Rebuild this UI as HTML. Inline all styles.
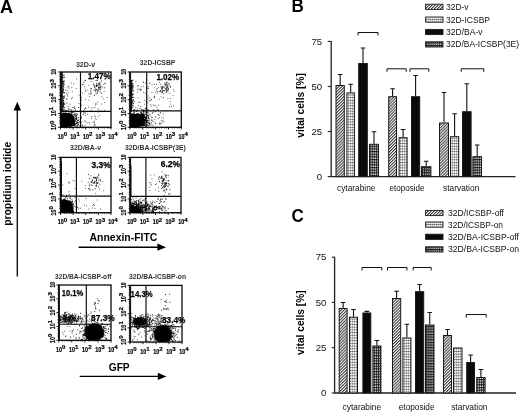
<!DOCTYPE html>
<html><head><meta charset="utf-8"><title>Figure</title>
<style>
html,body{margin:0;padding:0;background:#fff;}
svg{display:block;font-family:"Liberation Sans",sans-serif;}
</style></head><body>
<svg width="520" height="415" viewBox="0 0 520 415">
<defs>
<pattern id="p1" width="2.1" height="2.1" patternUnits="userSpaceOnUse" patternTransform="rotate(-45)"><rect width="2.1" height="2.1" fill="#fff"/><rect width="2.1" height="1.05" fill="#3a3a3a"/></pattern>
<pattern id="p2" width="2" height="2.7" patternUnits="userSpaceOnUse" x="0.2"><rect width="2" height="2.7" fill="#fff"/><rect width="2" height="0.9" fill="#b0b0b0"/><rect width="0.8" height="2.7" fill="#b8b8b8"/><rect width="0.9" height="1" fill="#3a3a3a"/></pattern>
<pattern id="p3" width="4" height="4" patternUnits="userSpaceOnUse"><rect width="4" height="4" fill="#0a0a0a"/></pattern>
<pattern id="p4" width="2.1" height="2.65" patternUnits="userSpaceOnUse"><rect width="2.1" height="2.65" fill="#e8e8e8"/><rect width="2.1" height="1.2" fill="#1c1c1c"/><rect width="1" height="2.65" fill="#1c1c1c"/></pattern>
</defs>
<rect width="520" height="415" fill="#fff"/>
<text x="0" y="12.7" font-size="18.4" font-weight="bold" textLength="13" lengthAdjust="spacingAndGlyphs">A</text>
<path d="M17.3 276.5V108" stroke="#000" stroke-width="1.3"/>
<path d="M17.3 101.8L13.6 110.6H21L17.3 101.8Z" fill="#000"/>
<text x="11.2" y="225.8" font-size="10.2" font-weight="bold" textLength="84" lengthAdjust="spacingAndGlyphs" transform="rotate(-90 11.2 225.8)">propidium iodide</text>
<clipPath id="c0"><rect x="60.5" y="72" width="50.5" height="55.3"/></clipPath>
<rect x="60.5" y="72" width="50.5" height="55.3" fill="#fff" stroke="#0a0a0a" stroke-width="1.3"/>
<path d="M60.8 72V127.3" stroke="#111" stroke-width="1.6"/>
<path d="M80.5 72V127.3M60.5 111.4H111" stroke="#0a0a0a" stroke-width="1.15"/>
<text x="57.7" y="138.9" font-size="7.2" font-weight="bold" textLength="6" lengthAdjust="spacingAndGlyphs" stroke="#000" stroke-width="0.2">10</text>
<text x="63.8" y="136.1" font-size="6.2" font-weight="bold" textLength="3.4" lengthAdjust="spacingAndGlyphs" stroke="#000" stroke-width="0.2">0</text>
<path d="M60.5 127.3v2.2" stroke="#000" stroke-width="0.9"/>
<text x="70.3" y="138.9" font-size="7.2" font-weight="bold" textLength="6" lengthAdjust="spacingAndGlyphs" stroke="#000" stroke-width="0.2">10</text>
<text x="76.4" y="136.1" font-size="6.2" font-weight="bold" textLength="3.4" lengthAdjust="spacingAndGlyphs" stroke="#000" stroke-width="0.2">1</text>
<path d="M73.1 127.3v2.2" stroke="#000" stroke-width="0.9"/>
<text x="83.0" y="138.9" font-size="7.2" font-weight="bold" textLength="6" lengthAdjust="spacingAndGlyphs" stroke="#000" stroke-width="0.2">10</text>
<text x="89.0" y="136.1" font-size="6.2" font-weight="bold" textLength="3.4" lengthAdjust="spacingAndGlyphs" stroke="#000" stroke-width="0.2">2</text>
<path d="M85.8 127.3v2.2" stroke="#000" stroke-width="0.9"/>
<text x="95.6" y="138.9" font-size="7.2" font-weight="bold" textLength="6" lengthAdjust="spacingAndGlyphs" stroke="#000" stroke-width="0.2">10</text>
<text x="101.7" y="136.1" font-size="6.2" font-weight="bold" textLength="3.4" lengthAdjust="spacingAndGlyphs" stroke="#000" stroke-width="0.2">3</text>
<path d="M98.4 127.3v2.2" stroke="#000" stroke-width="0.9"/>
<text x="108.2" y="138.9" font-size="7.2" font-weight="bold" textLength="6" lengthAdjust="spacingAndGlyphs" stroke="#000" stroke-width="0.2">10</text>
<text x="114.3" y="136.1" font-size="6.2" font-weight="bold" textLength="3.4" lengthAdjust="spacingAndGlyphs" stroke="#000" stroke-width="0.2">4</text>
<path d="M111.0 127.3v2.2" stroke="#000" stroke-width="0.9"/>
<path d="M64.3 127.3v1.3M66.5 127.3v1.3M69.3 127.3v1.3M71.2 127.3v1.3M76.9 127.3v1.3M79.1 127.3v1.3M81.9 127.3v1.3M83.8 127.3v1.3M89.6 127.3v1.3M91.8 127.3v1.3M94.6 127.3v1.3M96.4 127.3v1.3M102.2 127.3v1.3M104.4 127.3v1.3M107.2 127.3v1.3M109.0 127.3v1.3" stroke="#000" stroke-width="0.6"/>
<text x="56.3" y="130.1" font-size="7.2" font-weight="bold" textLength="6" lengthAdjust="spacingAndGlyphs" transform="rotate(-90 56.3 130.1)" stroke="#000" stroke-width="0.2">10</text>
<text x="53.5" y="124.0" font-size="6.2" font-weight="bold" textLength="3.4" lengthAdjust="spacingAndGlyphs" transform="rotate(-90 53.5 124.0)" stroke="#000" stroke-width="0.2">0</text>
<text x="56.3" y="116.3" font-size="7.2" font-weight="bold" textLength="6" lengthAdjust="spacingAndGlyphs" transform="rotate(-90 56.3 116.3)" stroke="#000" stroke-width="0.2">10</text>
<text x="53.5" y="110.2" font-size="6.2" font-weight="bold" textLength="3.4" lengthAdjust="spacingAndGlyphs" transform="rotate(-90 53.5 110.2)" stroke="#000" stroke-width="0.2">1</text>
<text x="56.3" y="102.5" font-size="7.2" font-weight="bold" textLength="6" lengthAdjust="spacingAndGlyphs" transform="rotate(-90 56.3 102.5)" stroke="#000" stroke-width="0.2">10</text>
<text x="53.5" y="96.4" font-size="6.2" font-weight="bold" textLength="3.4" lengthAdjust="spacingAndGlyphs" transform="rotate(-90 53.5 96.4)" stroke="#000" stroke-width="0.2">2</text>
<text x="56.3" y="88.6" font-size="7.2" font-weight="bold" textLength="6" lengthAdjust="spacingAndGlyphs" transform="rotate(-90 56.3 88.6)" stroke="#000" stroke-width="0.2">10</text>
<text x="53.5" y="82.5" font-size="6.2" font-weight="bold" textLength="3.4" lengthAdjust="spacingAndGlyphs" transform="rotate(-90 53.5 82.5)" stroke="#000" stroke-width="0.2">3</text>
<text x="56.3" y="74.6" font-size="7.2" font-weight="bold" textLength="5.6" lengthAdjust="spacingAndGlyphs" transform="rotate(-90 56.3 74.6)" stroke="#000" stroke-width="0.2">10</text>
<path d="M60.5 127.3h-2.4M60.5 113.5h-2.4M60.5 99.7h-2.4M60.5 85.8h-2.4M60.5 72.0h-2.4" stroke="#000" stroke-width="0.9"/>
<path d="M60.5 123.1h-1.4M60.5 120.7h-1.4M60.5 117.6h-1.4M60.5 115.6h-1.4M60.5 109.3h-1.4M60.5 106.9h-1.4M60.5 103.8h-1.4M60.5 101.8h-1.4M60.5 95.5h-1.4M60.5 93.1h-1.4M60.5 90.0h-1.4M60.5 88.0h-1.4M60.5 81.7h-1.4M60.5 79.2h-1.4M60.5 76.2h-1.4M60.5 74.1h-1.4" stroke="#000" stroke-width="0.6"/>
<text x="85.6" y="66.6" font-size="6.9" font-weight="bold" text-anchor="middle" textLength="19.4" lengthAdjust="spacingAndGlyphs" fill="#333">32D-v</text>
<path d="M59.3 127.9L59.7 112.1L60.5 112.4L61.9 112.7L63.8 112.8L65.7 112.5L68.1 113.5L69.6 112.9L72.2 113.9L72.7 114.8L73.8 115.9L74.2 117.7L74.0 119.0L74.8 121.4L74.8 122.9L75.5 124.5L75.5 126.0Z" fill="#050505" clip-path="url(#c0)"/>
<path d="M61.8 72V111.4" stroke="#111" stroke-width="2"/>
<path d="M71.8 121.5h0.9M66.2 115.5h0.9M65.8 126.4h0.9M64.3 121.5h0.9M70.7 112.9h0.9M67.9 116.2h0.9M71.1 120.0h0.9M72.0 125.0h0.9M76.0 122.1h0.9M69.1 113.8h0.9M71.7 117.2h0.9M66.1 114.0h0.9M63.5 117.6h0.9M75.2 110.1h0.9M76.0 123.2h0.9M70.4 116.6h0.9M62.7 125.2h0.9M74.2 121.1h0.9M69.8 122.5h0.9M76.8 123.4h0.9M71.2 123.0h0.9M73.5 122.9h0.9M72.9 111.2h0.9M67.5 125.4h0.9M71.4 119.5h0.9M70.2 123.5h0.9M69.1 126.0h0.9M65.1 118.2h0.9M73.9 120.4h0.9M63.9 125.0h0.9M76.1 118.1h0.9M61.3 119.6h0.9M67.7 118.8h0.9M75.8 115.2h0.9M75.1 114.0h0.9M64.4 123.5h0.9M74.4 124.6h0.9M70.3 121.0h0.9M69.3 123.2h0.9M67.6 121.7h0.9M71.5 120.3h0.9M72.5 123.1h0.9M79.0 121.9h0.9M66.3 118.4h0.9M68.4 124.9h0.9M66.7 122.2h0.9M78.1 107.5h0.9M62.7 121.5h0.9M70.6 121.5h0.9M66.3 123.6h0.9M70.0 117.7h0.9M81.1 122.1h0.9M65.6 119.8h0.9M67.3 120.0h0.9M73.7 114.5h0.9M68.2 125.1h0.9M66.7 123.4h0.9M74.2 106.9h0.9M74.2 113.1h0.9M72.1 112.8h0.9M69.4 126.3h0.9M67.7 121.3h0.9M72.6 121.0h0.9M74.0 118.8h0.9M82.8 114.6h0.9M73.3 119.0h0.9M69.2 123.8h0.9M69.7 123.5h0.9M71.7 115.5h0.9M63.2 112.9h0.9M75.1 124.0h0.9M76.2 115.6h0.9M68.5 114.6h0.9M73.6 119.4h0.9M68.0 117.3h0.9M70.6 122.3h0.9M76.3 115.2h0.9M76.1 119.4h0.9M64.6 125.4h0.9M69.1 120.9h0.9M75.9 119.0h0.9M70.1 117.2h0.9M68.5 124.5h0.9M68.2 125.5h0.9M65.0 124.7h0.9M62.1 120.2h0.9M67.5 120.2h0.9M65.4 121.5h0.9M77.8 120.5h0.9M71.3 125.3h0.9M67.5 114.0h0.9M65.6 125.7h0.9M73.7 124.3h0.9M68.5 124.3h0.9M69.4 114.4h0.9M73.3 117.5h0.9M63.8 116.4h0.9M62.4 122.1h0.9M65.2 110.6h0.9M72.3 118.9h0.9M70.0 118.0h0.9M72.6 124.0h0.9M72.0 121.9h0.9M75.4 123.6h0.9M70.8 109.9h0.9M67.0 118.0h0.9M78.6 111.5h0.9M63.7 123.7h0.9M78.3 119.7h0.9M71.4 124.8h0.9M63.8 119.9h0.9M70.0 124.4h0.9M68.3 119.3h0.9M63.2 118.5h0.9M73.1 120.8h0.9M64.1 116.1h0.9M82.4 126.0h0.9M71.8 107.3h0.9M71.7 122.7h0.9M77.3 122.4h0.9M68.1 122.9h0.9M70.2 116.8h0.9M61.2 117.0h0.9M70.0 121.2h0.9M66.4 115.4h0.9M79.5 125.5h0.9M62.3 113.6h0.9M77.4 125.2h0.9M78.0 124.4h0.9M64.0 121.6h0.9M68.2 122.9h0.9M64.7 119.7h0.9M70.9 122.2h0.9M71.8 121.3h0.9M66.8 124.2h0.9M68.8 116.2h0.9M65.2 120.3h0.9M67.9 121.1h0.9M68.5 121.2h0.9M67.8 114.0h0.9M70.7 125.6h0.9M70.8 119.4h0.9M70.8 115.5h0.9M63.7 124.0h0.9M62.9 107.2h0.9M66.5 113.5h0.9M64.5 122.9h0.9M71.1 121.2h0.9M76.2 123.8h0.9M68.4 123.3h0.9M77.1 125.2h0.9M73.8 114.9h0.9M67.7 123.9h0.9M67.0 125.6h0.9M71.6 124.8h0.9M74.9 119.2h0.9M66.7 124.7h0.9M73.6 120.3h0.9M62.4 121.2h0.9M70.4 125.9h0.9M72.6 120.4h0.9M72.9 123.0h0.9M69.6 120.6h0.9M67.2 123.7h0.9M63.0 117.2h0.9M68.5 113.0h0.9M66.2 110.3h0.9M64.9 123.1h0.9M71.4 120.0h0.9M67.3 113.2h0.9M78.0 122.9h0.9M74.2 115.9h0.9M67.5 111.2h0.9M72.6 125.0h0.9M71.8 111.5h0.9M65.2 113.3h0.9M68.7 121.5h0.9M71.8 123.8h0.9M76.3 126.1h0.9M61.7 117.8h0.9M63.0 114.9h0.9M68.1 120.3h0.9M71.0 112.4h0.9M62.1 120.2h0.9M67.5 118.7h0.9M68.2 116.5h0.9M72.1 122.1h0.9M68.0 116.9h0.9M67.6 106.7h0.9M63.4 120.5h0.9M69.3 113.4h0.9M67.2 118.7h0.9M70.9 123.4h0.9M68.3 116.0h0.9M67.7 120.0h0.9M72.3 121.8h0.9M64.7 113.5h0.9M66.6 116.6h0.9M62.7 119.7h0.9M65.9 120.8h0.9M71.2 118.2h0.9M80.6 118.7h0.9M74.2 120.9h0.9M74.3 108.4h0.9M64.6 121.5h0.9M70.2 126.7h0.9M72.5 125.0h0.9M71.2 119.5h0.9M71.1 114.9h0.9M74.6 115.2h0.9M67.3 120.4h0.9M74.5 120.4h0.9M64.3 121.6h0.9M71.5 123.9h0.9M77.2 120.4h0.9M69.9 118.2h0.9M75.9 116.8h0.9M72.0 117.9h0.9M64.9 123.9h0.9M75.4 120.2h0.9M65.0 124.4h0.9M68.2 121.9h0.9M76.4 126.0h0.9M68.5 124.2h0.9M65.1 120.1h0.9M75.6 114.2h0.9M74.6 118.0h0.9M68.2 118.7h0.9M67.9 114.9h0.9M68.6 113.1h0.9M68.1 121.8h0.9M70.9 119.1h0.9M63.8 121.1h0.9M72.5 119.7h0.9M66.1 116.8h0.9M63.6 118.5h0.9M70.0 122.9h0.9M64.8 120.4h0.9M83.0 111.0h0.9M65.8 121.1h0.9M69.3 122.3h0.9M67.3 122.1h0.9M68.8 124.2h0.9M68.5 115.1h0.9M63.1 123.4h0.9M65.1 123.5h0.9M72.4 121.8h0.9M71.1 119.8h0.9M61.2 120.1h0.9M70.9 117.7h0.9M68.0 124.0h0.9M63.9 123.5h0.9M78.2 117.5h0.9M69.3 119.5h0.9M76.5 121.9h0.9M73.2 116.8h0.9M68.4 120.3h0.9M73.2 111.6h0.9M72.4 119.6h0.9M70.8 122.1h0.9M76.3 117.4h0.9M63.2 113.5h0.9M62.2 122.0h0.9M77.3 122.4h0.9M65.8 116.9h0.9M71.2 123.0h0.9M63.2 114.5h0.9M70.0 121.5h0.9M61.7 119.3h0.9M65.7 122.6h0.9M67.9 119.9h0.9M66.7 125.6h0.9M75.7 118.5h0.9M72.9 116.5h0.9M68.9 124.0h0.9M76.4 118.4h0.9M68.1 121.3h0.9M65.0 122.2h0.9M62.6 110.4h0.9M68.7 121.6h0.9M65.6 124.7h0.9M67.1 117.3h0.9M71.0 112.5h0.9M65.0 120.2h0.9M72.9 119.5h0.9M70.1 117.0h0.9M65.2 120.4h0.9M69.4 125.4h0.9M62.1 109.8h0.9M71.7 124.3h0.9M69.6 121.6h0.9M73.3 122.1h0.9M77.2 114.1h0.9M66.5 103.1h0.9M72.7 118.4h0.9M68.5 119.0h0.9M65.9 116.1h0.9M65.2 123.5h0.9M68.7 120.6h0.9M67.6 124.9h0.9M71.1 119.6h0.9M72.0 119.5h0.9M70.9 115.5h0.9M74.1 122.0h0.9M70.2 124.8h0.9M69.5 119.6h0.9M68.7 118.9h0.9M70.3 120.7h0.9M72.0 118.4h0.9M68.3 109.6h0.9M66.3 123.7h0.9M75.5 118.5h0.9M66.8 124.0h0.9M77.2 120.5h0.9M74.9 116.7h0.9M69.6 119.9h0.9M69.1 125.9h0.9M80.9 117.0h0.9M65.5 122.8h0.9M63.0 122.8h0.9M71.5 118.9h0.9M71.3 112.6h0.9M72.5 112.6h0.9M64.9 117.5h0.9M66.4 124.6h0.9M68.9 118.3h0.9M68.5 122.1h0.9M74.9 121.6h0.9M80.0 110.4h0.9M68.3 122.4h0.9M100.3 89.8h0.9M96.1 83.9h0.9M97.4 91.0h0.9M93.3 84.0h0.9M96.9 80.9h0.9M96.1 86.0h0.9M98.5 85.1h0.9M94.0 86.2h0.9M96.8 85.2h0.9M97.0 90.1h0.9M101.0 93.3h0.9M94.3 86.1h0.9M88.6 94.0h0.9M94.5 87.4h0.9M98.8 82.9h0.9M98.6 87.4h0.9M90.8 88.5h0.9M101.1 81.1h0.9M99.7 88.2h0.9M98.6 89.0h0.9M101.4 86.7h0.9M100.0 86.1h0.9M99.5 84.7h0.9M96.6 93.4h0.9M98.5 87.0h0.9M93.1 84.8h0.9M97.7 90.7h0.9M98.4 89.3h0.9M96.9 92.1h0.9M95.7 85.6h0.9M100.0 87.7h0.9M96.1 85.5h0.9M96.1 89.6h0.9M98.2 83.4h0.9M98.4 88.1h0.9M93.6 90.1h0.9M96.0 86.4h0.9M99.7 92.0h0.9M94.7 89.0h0.9M94.0 95.4h0.9M95.3 91.6h0.9M94.8 90.3h0.9M104.5 78.9h0.9M95.5 89.2h0.9M96.7 85.2h0.9M104.3 87.8h0.9M62.6 96.1h0.9M63.0 104.6h0.9M63.6 107.3h0.9M62.6 106.5h0.9M63.8 109.3h0.9M62.6 81.7h0.9M62.7 75.3h0.9M63.7 104.4h0.9M63.4 104.9h0.9M63.4 84.7h0.9M62.6 77.7h0.9M63.6 81.7h0.9M62.9 89.8h0.9M62.5 83.6h0.9M62.9 100.8h0.9M63.0 86.0h0.9M63.8 92.8h0.9M63.7 97.1h0.9M62.5 89.4h0.9M63.1 102.9h0.9M63.0 100.4h0.9M63.3 82.1h0.9M63.7 77.4h0.9M63.6 80.4h0.9M62.5 81.6h0.9M63.6 110.6h0.9M62.5 92.4h0.9M63.2 103.8h0.9M62.8 92.5h0.9M63.0 105.1h0.9M62.9 109.3h0.9M62.9 82.0h0.9M63.5 92.6h0.9M62.7 97.8h0.9M62.6 103.5h0.9M63.5 103.4h0.9M63.4 87.3h0.9M63.1 88.8h0.9M63.7 77.2h0.9M63.7 74.9h0.9M62.8 83.8h0.9M63.8 92.7h0.9M63.0 107.1h0.9M62.8 91.2h0.9M63.2 102.2h0.9M63.6 98.2h0.9M63.0 86.2h0.9M62.7 105.5h0.9M63.4 101.8h0.9M62.7 90.4h0.9" stroke="#000" stroke-width="0.9" fill="none" opacity="1"/>
<path d="M81.1 105.3h0.9M80.3 107.3h0.9M82.7 84.2h0.9M62.7 96.6h0.9M90.8 108.1h0.9M66.0 98.9h0.9M78.7 95.1h0.9M68.6 88.1h0.9M85.5 108.6h0.9M66.9 94.7h0.9M98.2 109.9h0.9M70.9 83.1h0.9M104.4 110.2h0.9M83.7 80.7h0.9M103.7 91.4h0.9M102.7 98.9h0.9M99.1 84.1h0.9M97.4 86.1h0.9M80.2 106.1h0.9M99.3 84.9h0.9M71.8 91.8h0.9M85.3 91.3h0.9M67.5 86.9h0.9M94.6 107.7h0.9M63.8 97.0h0.9M96.1 80.2h0.9M99.7 82.8h0.9M89.0 96.6h0.9M90.2 88.8h0.9M80.9 97.6h0.9M81.2 100.1h0.9M82.1 93.0h0.9M63.1 98.8h0.9M84.0 86.5h0.9M96.4 104.0h0.9M82.6 84.7h0.9M83.3 82.4h0.9M67.8 92.8h0.9M66.1 93.1h0.9M85.0 80.3h0.9M90.6 81.6h0.9M95.0 103.9h0.9M85.0 80.7h0.9M84.7 91.1h0.9M104.8 83.4h0.9M100.6 110.9h0.9M94.9 105.1h0.9M70.7 110.4h0.9M84.1 109.6h0.9M103.2 84.3h0.9M97.5 108.8h0.9M64.9 90.2h0.9M96.0 84.1h0.9M102.3 87.8h0.9M98.7 83.6h0.9M84.6 108.4h0.9M71.4 87.4h0.9M84.8 89.2h0.9M63.7 84.8h0.9M69.3 109.0h0.9M92.6 107.7h0.9M69.6 104.1h0.9M67.2 96.0h0.9M90.6 90.5h0.9M101.3 96.8h0.9M88.1 107.2h0.9M66.7 110.8h0.9M90.3 91.6h0.9M97.9 87.5h0.9M106.6 97.5h0.9M78.2 103.5h0.9M81.9 84.7h0.9M95.5 80.5h0.9M98.9 87.1h0.9M90.8 110.5h0.9M88.4 100.2h0.9M76.1 79.1h0.9M63.5 83.8h0.9M89.7 92.8h0.9M85.1 107.7h0.9M67.9 86.3h0.9M91.4 79.7h0.9M62.1 90.4h0.9M66.8 90.4h0.9M72.1 97.7h0.9M88.5 85.5h0.9M90.1 94.2h0.9M68.1 109.0h0.9M73.0 83.8h0.9M66.3 99.4h0.9M101.2 104.0h0.9M80.1 87.5h0.9M62.5 99.6h0.9M87.3 90.2h0.9M91.1 93.2h0.9M104.2 102.5h0.9M73.2 107.9h0.9M64.0 96.0h0.9M80.3 86.6h0.9M64.6 103.9h0.9M62.6 96.6h0.9M104.3 83.6h0.9M71.0 98.5h0.9M84.8 99.5h0.9M98.6 84.6h0.9M75.9 88.6h0.9M64.2 107.5h0.9M97.2 101.9h0.9M62.3 106.0h0.9M95.5 93.9h0.9M94.8 118.6h0.9M84.5 113.5h0.9M84.6 112.6h0.9M86.7 122.9h0.9M93.9 124.3h0.9M94.2 115.9h0.9M91.1 118.3h0.9M95.8 119.6h0.9M85.3 121.3h0.9M99.3 115.1h0.9M97.6 112.2h0.9M85.2 115.4h0.9M94.9 125.7h0.9M94.9 116.7h0.9M97.6 116.8h0.9M84.8 125.2h0.9M92.6 122.0h0.9M93.3 126.2h0.9M89.4 124.2h0.9M94.0 124.4h0.9M88.7 122.5h0.9M91.4 116.5h0.9M84.2 121.0h0.9M81.6 125.2h0.9M82.9 112.4h0.9M82.1 125.5h0.9M86.9 114.1h0.9M80.6 112.6h0.9M93.9 121.2h0.9M93.9 122.7h0.9" stroke="#222" stroke-width="0.9" fill="none" opacity="0.85"/>
<text x="87.8" y="79.4" font-size="8.8" font-weight="bold" textLength="22.8" lengthAdjust="spacingAndGlyphs" stroke="#000" stroke-width="0.25">1.47%</text>
<clipPath id="c1"><rect x="130" y="72" width="51.30000000000001" height="55.3"/></clipPath>
<rect x="130" y="72" width="51.30000000000001" height="55.3" fill="#fff" stroke="#0a0a0a" stroke-width="1.3"/>
<path d="M130.3 72V127.3" stroke="#111" stroke-width="1.6"/>
<path d="M146.7 72V127.3M130 110.9H181.3" stroke="#0a0a0a" stroke-width="1.15"/>
<text x="127.2" y="138.9" font-size="7.2" font-weight="bold" textLength="6" lengthAdjust="spacingAndGlyphs" stroke="#000" stroke-width="0.2">10</text>
<text x="133.3" y="136.1" font-size="6.2" font-weight="bold" textLength="3.4" lengthAdjust="spacingAndGlyphs" stroke="#000" stroke-width="0.2">0</text>
<path d="M130.0 127.3v2.2" stroke="#000" stroke-width="0.9"/>
<text x="140.0" y="138.9" font-size="7.2" font-weight="bold" textLength="6" lengthAdjust="spacingAndGlyphs" stroke="#000" stroke-width="0.2">10</text>
<text x="146.1" y="136.1" font-size="6.2" font-weight="bold" textLength="3.4" lengthAdjust="spacingAndGlyphs" stroke="#000" stroke-width="0.2">1</text>
<path d="M142.8 127.3v2.2" stroke="#000" stroke-width="0.9"/>
<text x="152.8" y="138.9" font-size="7.2" font-weight="bold" textLength="6" lengthAdjust="spacingAndGlyphs" stroke="#000" stroke-width="0.2">10</text>
<text x="158.9" y="136.1" font-size="6.2" font-weight="bold" textLength="3.4" lengthAdjust="spacingAndGlyphs" stroke="#000" stroke-width="0.2">2</text>
<path d="M155.7 127.3v2.2" stroke="#000" stroke-width="0.9"/>
<text x="165.7" y="138.9" font-size="7.2" font-weight="bold" textLength="6" lengthAdjust="spacingAndGlyphs" stroke="#000" stroke-width="0.2">10</text>
<text x="171.8" y="136.1" font-size="6.2" font-weight="bold" textLength="3.4" lengthAdjust="spacingAndGlyphs" stroke="#000" stroke-width="0.2">3</text>
<path d="M168.5 127.3v2.2" stroke="#000" stroke-width="0.9"/>
<text x="178.5" y="138.9" font-size="7.2" font-weight="bold" textLength="6" lengthAdjust="spacingAndGlyphs" stroke="#000" stroke-width="0.2">10</text>
<text x="184.6" y="136.1" font-size="6.2" font-weight="bold" textLength="3.4" lengthAdjust="spacingAndGlyphs" stroke="#000" stroke-width="0.2">4</text>
<path d="M181.3 127.3v2.2" stroke="#000" stroke-width="0.9"/>
<path d="M133.9 127.3v1.3M136.1 127.3v1.3M139.0 127.3v1.3M140.8 127.3v1.3M146.7 127.3v1.3M148.9 127.3v1.3M151.8 127.3v1.3M153.7 127.3v1.3M159.5 127.3v1.3M161.8 127.3v1.3M164.6 127.3v1.3M166.5 127.3v1.3M172.3 127.3v1.3M174.6 127.3v1.3M177.4 127.3v1.3M179.3 127.3v1.3" stroke="#000" stroke-width="0.6"/>
<text x="125.8" y="130.1" font-size="7.2" font-weight="bold" textLength="6" lengthAdjust="spacingAndGlyphs" transform="rotate(-90 125.8 130.1)" stroke="#000" stroke-width="0.2">10</text>
<text x="123.0" y="124.0" font-size="6.2" font-weight="bold" textLength="3.4" lengthAdjust="spacingAndGlyphs" transform="rotate(-90 123.0 124.0)" stroke="#000" stroke-width="0.2">0</text>
<text x="125.8" y="116.3" font-size="7.2" font-weight="bold" textLength="6" lengthAdjust="spacingAndGlyphs" transform="rotate(-90 125.8 116.3)" stroke="#000" stroke-width="0.2">10</text>
<text x="123.0" y="110.2" font-size="6.2" font-weight="bold" textLength="3.4" lengthAdjust="spacingAndGlyphs" transform="rotate(-90 123.0 110.2)" stroke="#000" stroke-width="0.2">1</text>
<text x="125.8" y="102.5" font-size="7.2" font-weight="bold" textLength="6" lengthAdjust="spacingAndGlyphs" transform="rotate(-90 125.8 102.5)" stroke="#000" stroke-width="0.2">10</text>
<text x="123.0" y="96.4" font-size="6.2" font-weight="bold" textLength="3.4" lengthAdjust="spacingAndGlyphs" transform="rotate(-90 123.0 96.4)" stroke="#000" stroke-width="0.2">2</text>
<text x="125.8" y="88.6" font-size="7.2" font-weight="bold" textLength="6" lengthAdjust="spacingAndGlyphs" transform="rotate(-90 125.8 88.6)" stroke="#000" stroke-width="0.2">10</text>
<text x="123.0" y="82.5" font-size="6.2" font-weight="bold" textLength="3.4" lengthAdjust="spacingAndGlyphs" transform="rotate(-90 123.0 82.5)" stroke="#000" stroke-width="0.2">3</text>
<text x="125.8" y="74.6" font-size="7.2" font-weight="bold" textLength="5.6" lengthAdjust="spacingAndGlyphs" transform="rotate(-90 125.8 74.6)" stroke="#000" stroke-width="0.2">10</text>
<path d="M130 127.3h-2.4M130 113.5h-2.4M130 99.7h-2.4M130 85.8h-2.4M130 72.0h-2.4" stroke="#000" stroke-width="0.9"/>
<path d="M130 123.1h-1.4M130 120.7h-1.4M130 117.6h-1.4M130 115.6h-1.4M130 109.3h-1.4M130 106.9h-1.4M130 103.8h-1.4M130 101.8h-1.4M130 95.5h-1.4M130 93.1h-1.4M130 90.0h-1.4M130 88.0h-1.4M130 81.7h-1.4M130 79.2h-1.4M130 76.2h-1.4M130 74.1h-1.4" stroke="#000" stroke-width="0.6"/>
<text x="157.6" y="65.4" font-size="6.9" font-weight="bold" text-anchor="middle" textLength="35.5" lengthAdjust="spacingAndGlyphs" fill="#333">32D-ICSBP</text>
<path d="M129.3 128.4L128.6 113.6L130.5 113.3L132.0 113.4L134.9 114.1L136.6 113.4L139.0 113.7L141.7 113.5L143.8 113.6L144.8 115.7L144.0 117.4L144.2 118.1L145.5 120.0L145.5 120.9L144.8 123.0L144.6 124.3L144.9 125.9Z" fill="#050505" clip-path="url(#c1)"/>
<path d="M131.2 80V110.9" stroke="#111" stroke-width="2"/>
<path d="M131.3 125.5h0.9M136.8 114.8h0.9M134.9 116.2h0.9M143.6 125.6h0.9M131.7 124.9h0.9M143.8 117.4h0.9M131.0 116.6h0.9M135.6 122.0h0.9M137.1 110.2h0.9M140.3 112.6h0.9M143.9 114.3h0.9M135.3 116.0h0.9M143.6 123.3h0.9M140.7 112.6h0.9M136.2 117.5h0.9M133.7 122.8h0.9M135.0 116.8h0.9M133.4 110.0h0.9M139.9 115.4h0.9M145.6 121.8h0.9M145.1 118.1h0.9M144.7 124.2h0.9M130.7 118.3h0.9M131.3 119.8h0.9M142.1 115.0h0.9M131.9 125.6h0.9M137.9 121.6h0.9M138.2 125.3h0.9M144.6 120.7h0.9M131.7 124.0h0.9M136.5 123.4h0.9M145.1 118.0h0.9M136.1 122.5h0.9M145.4 126.6h0.9M141.8 113.7h0.9M132.2 121.5h0.9M134.3 126.0h0.9M143.2 111.9h0.9M134.6 121.1h0.9M136.3 119.5h0.9M141.5 116.3h0.9M141.5 117.1h0.9M136.1 123.0h0.9M135.9 121.7h0.9M147.6 120.4h0.9M138.2 124.0h0.9M137.0 125.7h0.9M132.1 123.4h0.9M136.2 116.3h0.9M148.6 116.0h0.9M148.5 123.6h0.9M146.8 115.4h0.9M138.4 119.7h0.9M152.3 121.2h0.9M136.7 117.2h0.9M141.4 122.0h0.9M137.2 122.7h0.9M146.9 115.3h0.9M131.7 114.8h0.9M133.4 111.1h0.9M141.4 111.0h0.9M135.0 119.0h0.9M139.3 123.0h0.9M137.1 120.4h0.9M136.0 120.9h0.9M132.7 120.6h0.9M149.3 120.7h0.9M132.2 121.6h0.9M133.7 112.0h0.9M135.0 124.0h0.9M141.1 119.8h0.9M134.0 114.9h0.9M146.3 121.5h0.9M133.9 109.7h0.9M132.8 119.9h0.9M140.1 119.5h0.9M137.5 113.4h0.9M134.9 124.5h0.9M140.4 125.5h0.9M132.9 123.3h0.9M141.1 116.6h0.9M141.6 115.8h0.9M134.7 120.2h0.9M133.6 113.0h0.9M136.7 124.1h0.9M136.8 126.6h0.9M132.7 113.7h0.9M147.4 122.3h0.9M144.1 116.2h0.9M143.3 121.6h0.9M142.5 120.4h0.9M145.5 117.1h0.9M133.8 112.9h0.9M145.3 116.6h0.9M133.4 115.6h0.9M136.6 113.9h0.9M137.4 117.2h0.9M136.0 115.5h0.9M139.2 118.0h0.9M139.6 121.5h0.9M140.8 109.4h0.9M136.1 116.3h0.9M143.2 112.4h0.9M135.1 118.8h0.9M137.2 125.3h0.9M136.6 125.1h0.9M131.1 111.2h0.9M145.6 122.5h0.9M141.6 120.9h0.9M141.6 114.2h0.9M144.1 117.6h0.9M144.3 120.7h0.9M145.1 119.6h0.9M136.9 121.5h0.9M136.7 117.6h0.9M139.6 121.0h0.9M147.2 120.5h0.9M148.3 125.6h0.9M139.7 121.0h0.9M138.2 116.6h0.9M138.6 117.1h0.9M147.9 123.0h0.9M136.6 110.7h0.9M138.7 118.2h0.9M133.1 114.6h0.9M138.8 119.6h0.9M146.8 121.0h0.9M139.9 118.4h0.9M137.1 120.5h0.9M134.2 125.1h0.9M131.5 123.1h0.9M133.9 125.7h0.9M135.1 116.5h0.9M131.9 126.1h0.9M147.9 117.3h0.9M134.9 118.6h0.9M152.5 125.3h0.9M136.1 111.3h0.9M135.4 126.2h0.9M149.1 119.0h0.9M135.3 117.8h0.9M133.1 125.6h0.9M140.6 116.5h0.9M143.2 120.3h0.9M132.7 123.4h0.9M143.5 110.7h0.9M148.9 122.8h0.9M143.1 111.0h0.9M135.1 118.6h0.9M144.8 113.0h0.9M134.2 110.2h0.9M137.7 122.0h0.9M142.6 118.8h0.9M132.6 115.6h0.9M135.4 121.0h0.9M140.6 114.9h0.9M147.3 125.0h0.9M139.5 116.7h0.9M143.9 116.3h0.9M131.9 121.3h0.9M140.3 123.3h0.9M134.5 125.2h0.9M133.7 123.8h0.9M140.0 121.5h0.9M144.2 120.2h0.9M145.0 124.7h0.9M139.7 117.5h0.9M134.9 117.7h0.9M137.9 120.2h0.9M155.1 123.5h0.9M143.2 116.0h0.9M135.2 118.7h0.9M140.0 115.1h0.9M147.7 117.5h0.9M144.8 108.6h0.9M139.0 121.7h0.9M140.0 123.3h0.9M140.5 121.1h0.9M140.7 119.3h0.9M134.6 117.4h0.9M136.4 115.9h0.9M136.0 121.2h0.9M155.3 117.0h0.9M139.3 121.7h0.9M138.8 125.0h0.9M148.6 114.1h0.9M139.9 119.0h0.9M140.9 112.6h0.9M141.8 121.3h0.9M139.4 108.5h0.9M137.0 116.5h0.9M131.4 115.7h0.9M142.8 123.0h0.9M138.9 122.9h0.9M135.7 120.7h0.9M139.2 123.1h0.9M138.6 119.6h0.9M138.3 117.1h0.9M151.1 122.9h0.9M146.6 112.5h0.9M142.8 124.5h0.9M143.2 114.4h0.9M134.3 121.6h0.9M141.7 115.2h0.9M136.9 118.3h0.9M139.3 122.0h0.9M137.5 114.1h0.9M138.4 125.4h0.9M141.4 123.6h0.9M141.6 116.5h0.9M142.1 125.4h0.9M149.7 124.0h0.9M137.2 117.3h0.9M134.6 120.9h0.9M138.8 123.7h0.9M151.3 120.2h0.9M142.7 122.7h0.9M140.5 119.3h0.9M138.3 116.2h0.9M140.0 120.2h0.9M140.7 116.0h0.9M139.2 120.5h0.9M142.3 115.0h0.9M141.3 125.2h0.9M142.2 118.5h0.9M136.3 119.1h0.9M138.1 117.1h0.9M141.0 121.3h0.9M134.1 116.6h0.9M138.5 123.7h0.9M132.6 115.2h0.9M141.7 114.2h0.9M139.6 122.1h0.9M138.4 115.2h0.9M138.7 118.6h0.9M140.8 116.1h0.9M144.9 111.9h0.9M138.0 120.3h0.9M144.2 117.3h0.9M141.9 117.5h0.9M136.8 122.5h0.9M134.0 125.2h0.9M145.5 120.5h0.9M132.9 122.3h0.9M145.2 125.7h0.9M143.4 111.1h0.9M132.4 126.0h0.9M149.2 124.1h0.9M145.0 118.6h0.9M132.4 119.8h0.9M137.9 120.1h0.9M142.8 119.6h0.9M140.0 122.4h0.9M141.4 120.7h0.9M137.9 117.2h0.9M146.3 121.1h0.9M133.2 117.5h0.9M138.3 118.1h0.9M144.9 114.5h0.9M141.7 121.0h0.9M132.6 120.5h0.9M138.5 122.8h0.9M136.6 121.8h0.9M143.2 125.5h0.9M138.9 117.3h0.9M144.8 109.8h0.9M134.7 123.7h0.9M142.5 115.1h0.9M139.8 115.8h0.9M139.3 124.8h0.9M143.0 109.9h0.9M143.2 111.4h0.9M145.2 122.3h0.9M151.2 117.2h0.9M139.0 125.5h0.9M135.5 116.8h0.9M137.0 119.9h0.9M133.2 122.7h0.9M141.9 120.7h0.9M148.2 118.7h0.9M146.1 117.6h0.9M143.1 110.6h0.9M140.1 119.4h0.9M136.3 117.2h0.9M137.1 116.7h0.9M136.0 117.7h0.9M133.3 119.6h0.9M143.2 119.0h0.9M144.3 124.9h0.9M145.2 118.7h0.9M138.3 125.9h0.9M136.0 119.7h0.9M141.0 122.2h0.9M137.5 125.2h0.9M138.0 123.9h0.9M144.8 123.6h0.9M143.0 114.5h0.9M131.9 117.2h0.9M132.4 121.8h0.9M134.4 116.6h0.9M164.1 90.7h0.9M165.7 92.3h0.9M161.8 91.3h0.9M168.0 88.7h0.9M166.5 86.7h0.9M161.5 87.2h0.9M162.9 97.7h0.9M163.4 93.8h0.9M165.6 89.5h0.9M167.4 86.0h0.9M167.9 89.7h0.9M160.1 90.4h0.9M166.8 89.9h0.9M170.1 87.2h0.9M166.6 90.9h0.9M162.1 92.3h0.9M160.4 84.3h0.9M166.7 85.0h0.9M164.6 83.2h0.9M165.2 84.9h0.9M166.1 83.6h0.9M166.4 87.6h0.9M165.2 88.3h0.9M165.4 84.3h0.9M156.8 88.6h0.9M162.0 87.0h0.9M166.4 82.1h0.9M162.6 86.5h0.9M161.6 89.5h0.9M164.6 85.9h0.9M161.8 91.1h0.9M162.9 90.4h0.9M166.4 82.4h0.9M161.5 88.5h0.9M166.1 91.0h0.9M167.6 91.8h0.9M163.8 87.8h0.9M167.5 87.1h0.9M168.4 83.4h0.9M167.1 87.9h0.9M158.7 91.6h0.9M166.0 88.6h0.9M161.6 87.0h0.9M169.8 85.9h0.9M132.5 87.7h0.9M132.1 91.1h0.9M132.4 86.2h0.9M132.3 84.2h0.9M132.7 100.7h0.9M132.2 87.5h0.9M132.5 93.8h0.9M132.9 90.9h0.9M132.3 107.3h0.9M132.1 97.4h0.9M132.3 105.2h0.9M132.5 103.5h0.9M132.2 100.6h0.9M132.6 94.3h0.9M132.8 105.7h0.9M132.1 88.9h0.9M132.4 86.4h0.9M132.1 88.7h0.9M132.2 101.7h0.9M132.4 83.5h0.9M132.3 94.5h0.9M132.4 85.2h0.9M132.1 80.3h0.9M133.0 103.2h0.9M132.1 102.2h0.9M133.0 97.4h0.9M132.1 95.1h0.9M132.4 85.9h0.9M132.5 80.3h0.9M132.9 99.9h0.9" stroke="#000" stroke-width="0.9" fill="none" opacity="1"/>
<path d="M155.1 110.9h0.9M154.2 96.5h0.9M161.1 92.7h0.9M147.7 98.8h0.9M147.4 109.4h0.9M160.7 96.8h0.9M137.1 92.2h0.9M149.4 97.8h0.9M156.5 107.4h0.9M172.5 95.6h0.9M151.0 99.7h0.9M173.8 91.3h0.9M154.7 105.5h0.9M140.0 90.5h0.9M173.1 105.8h0.9M154.0 84.3h0.9M169.7 101.7h0.9M166.6 110.7h0.9M169.4 93.6h0.9M139.4 89.7h0.9M154.0 96.1h0.9M140.7 86.5h0.9M158.8 99.1h0.9M147.5 110.8h0.9M159.1 82.3h0.9M149.9 104.6h0.9M145.6 101.7h0.9M133.2 90.1h0.9M167.5 98.6h0.9M160.4 86.9h0.9M153.4 97.6h0.9M143.9 100.4h0.9M154.8 110.9h0.9M156.6 93.3h0.9M138.0 85.7h0.9M164.1 84.2h0.9M137.1 86.1h0.9M154.4 105.7h0.9M158.1 105.2h0.9M135.5 81.4h0.9M164.6 90.7h0.9M162.3 91.6h0.9M139.9 89.0h0.9M137.1 108.1h0.9M156.9 91.5h0.9M151.4 92.6h0.9M135.2 107.7h0.9M156.9 109.8h0.9M151.0 99.6h0.9M143.2 82.3h0.9M171.2 106.6h0.9M145.9 108.0h0.9M166.5 90.1h0.9M157.7 109.8h0.9M153.3 109.5h0.9M143.0 92.7h0.9M162.5 87.6h0.9M145.7 107.3h0.9M152.9 104.8h0.9M143.0 86.2h0.9M147.7 86.6h0.9M172.8 89.7h0.9M156.0 84.4h0.9M154.9 92.6h0.9M149.5 83.0h0.9M138.1 105.8h0.9M147.4 88.3h0.9M140.8 89.5h0.9M142.7 82.0h0.9M160.2 91.2h0.9M139.4 102.2h0.9M136.8 89.1h0.9M167.2 84.8h0.9M151.2 106.1h0.9M166.0 85.8h0.9M147.5 102.7h0.9M148.5 109.8h0.9M141.5 109.5h0.9M153.7 87.8h0.9M151.6 84.9h0.9M162.0 88.8h0.9M169.9 98.6h0.9M148.1 88.4h0.9M157.9 87.4h0.9M168.8 84.7h0.9M154.0 97.3h0.9M144.1 104.2h0.9M148.8 100.7h0.9M156.3 90.3h0.9M149.0 83.6h0.9M140.3 106.5h0.9M146.2 100.9h0.9M137.5 97.9h0.9M147.8 96.0h0.9M145.2 83.0h0.9M145.8 87.8h0.9M138.2 102.5h0.9M144.6 93.1h0.9M170.3 104.2h0.9M169.2 106.8h0.9M138.4 89.3h0.9M134.2 101.4h0.9M160.2 91.5h0.9M149.9 100.8h0.9M161.7 88.5h0.9M161.4 117.1h0.9M157.7 114.6h0.9M149.0 125.2h0.9M159.5 122.3h0.9M147.7 112.6h0.9M149.8 114.9h0.9M152.2 117.5h0.9M147.7 116.5h0.9M157.9 114.6h0.9M161.3 120.3h0.9M159.2 115.7h0.9M154.4 121.9h0.9M152.9 112.0h0.9M161.2 123.3h0.9M151.9 112.6h0.9M161.5 120.8h0.9M147.8 115.5h0.9M148.9 123.5h0.9M150.6 125.3h0.9M159.7 113.2h0.9M158.8 117.7h0.9M159.7 124.0h0.9M151.8 113.3h0.9M163.1 118.1h0.9M162.8 122.0h0.9M159.6 124.0h0.9M157.7 118.6h0.9M147.9 122.1h0.9M154.3 119.4h0.9M162.8 113.9h0.9M160.0 112.6h0.9M158.9 123.7h0.9M151.4 119.9h0.9M163.5 121.2h0.9" stroke="#222" stroke-width="0.9" fill="none" opacity="0.85"/>
<text x="156.4" y="79.6" font-size="8.8" font-weight="bold" textLength="22.8" lengthAdjust="spacingAndGlyphs" stroke="#000" stroke-width="0.25">1.02%</text>
<clipPath id="c2"><rect x="60.5" y="157.4" width="50.5" height="55.29999999999998"/></clipPath>
<rect x="60.5" y="157.4" width="50.5" height="55.29999999999998" fill="#fff" stroke="#0a0a0a" stroke-width="1.3"/>
<path d="M60.8 157.4V212.7" stroke="#111" stroke-width="1.6"/>
<path d="M76.4 157.4V212.7M60.5 196.1H111" stroke="#0a0a0a" stroke-width="1.15"/>
<text x="57.7" y="224.3" font-size="7.2" font-weight="bold" textLength="6" lengthAdjust="spacingAndGlyphs" stroke="#000" stroke-width="0.2">10</text>
<text x="63.8" y="221.5" font-size="6.2" font-weight="bold" textLength="3.4" lengthAdjust="spacingAndGlyphs" stroke="#000" stroke-width="0.2">0</text>
<path d="M60.5 212.7v2.2" stroke="#000" stroke-width="0.9"/>
<text x="70.3" y="224.3" font-size="7.2" font-weight="bold" textLength="6" lengthAdjust="spacingAndGlyphs" stroke="#000" stroke-width="0.2">10</text>
<text x="76.4" y="221.5" font-size="6.2" font-weight="bold" textLength="3.4" lengthAdjust="spacingAndGlyphs" stroke="#000" stroke-width="0.2">1</text>
<path d="M73.1 212.7v2.2" stroke="#000" stroke-width="0.9"/>
<text x="83.0" y="224.3" font-size="7.2" font-weight="bold" textLength="6" lengthAdjust="spacingAndGlyphs" stroke="#000" stroke-width="0.2">10</text>
<text x="89.0" y="221.5" font-size="6.2" font-weight="bold" textLength="3.4" lengthAdjust="spacingAndGlyphs" stroke="#000" stroke-width="0.2">2</text>
<path d="M85.8 212.7v2.2" stroke="#000" stroke-width="0.9"/>
<text x="95.6" y="224.3" font-size="7.2" font-weight="bold" textLength="6" lengthAdjust="spacingAndGlyphs" stroke="#000" stroke-width="0.2">10</text>
<text x="101.7" y="221.5" font-size="6.2" font-weight="bold" textLength="3.4" lengthAdjust="spacingAndGlyphs" stroke="#000" stroke-width="0.2">3</text>
<path d="M98.4 212.7v2.2" stroke="#000" stroke-width="0.9"/>
<text x="108.2" y="224.3" font-size="7.2" font-weight="bold" textLength="6" lengthAdjust="spacingAndGlyphs" stroke="#000" stroke-width="0.2">10</text>
<text x="114.3" y="221.5" font-size="6.2" font-weight="bold" textLength="3.4" lengthAdjust="spacingAndGlyphs" stroke="#000" stroke-width="0.2">4</text>
<path d="M111.0 212.7v2.2" stroke="#000" stroke-width="0.9"/>
<path d="M64.3 212.7v1.3M66.5 212.7v1.3M69.3 212.7v1.3M71.2 212.7v1.3M76.9 212.7v1.3M79.1 212.7v1.3M81.9 212.7v1.3M83.8 212.7v1.3M89.6 212.7v1.3M91.8 212.7v1.3M94.6 212.7v1.3M96.4 212.7v1.3M102.2 212.7v1.3M104.4 212.7v1.3M107.2 212.7v1.3M109.0 212.7v1.3" stroke="#000" stroke-width="0.6"/>
<text x="56.3" y="215.5" font-size="7.2" font-weight="bold" textLength="6" lengthAdjust="spacingAndGlyphs" transform="rotate(-90 56.3 215.5)" stroke="#000" stroke-width="0.2">10</text>
<text x="53.5" y="209.4" font-size="6.2" font-weight="bold" textLength="3.4" lengthAdjust="spacingAndGlyphs" transform="rotate(-90 53.5 209.4)" stroke="#000" stroke-width="0.2">0</text>
<text x="56.3" y="201.7" font-size="7.2" font-weight="bold" textLength="6" lengthAdjust="spacingAndGlyphs" transform="rotate(-90 56.3 201.7)" stroke="#000" stroke-width="0.2">10</text>
<text x="53.5" y="195.6" font-size="6.2" font-weight="bold" textLength="3.4" lengthAdjust="spacingAndGlyphs" transform="rotate(-90 53.5 195.6)" stroke="#000" stroke-width="0.2">1</text>
<text x="56.3" y="187.9" font-size="7.2" font-weight="bold" textLength="6" lengthAdjust="spacingAndGlyphs" transform="rotate(-90 56.3 187.9)" stroke="#000" stroke-width="0.2">10</text>
<text x="53.5" y="181.8" font-size="6.2" font-weight="bold" textLength="3.4" lengthAdjust="spacingAndGlyphs" transform="rotate(-90 53.5 181.8)" stroke="#000" stroke-width="0.2">2</text>
<text x="56.3" y="174.0" font-size="7.2" font-weight="bold" textLength="6" lengthAdjust="spacingAndGlyphs" transform="rotate(-90 56.3 174.0)" stroke="#000" stroke-width="0.2">10</text>
<text x="53.5" y="167.9" font-size="6.2" font-weight="bold" textLength="3.4" lengthAdjust="spacingAndGlyphs" transform="rotate(-90 53.5 167.9)" stroke="#000" stroke-width="0.2">3</text>
<text x="56.3" y="160.0" font-size="7.2" font-weight="bold" textLength="5.6" lengthAdjust="spacingAndGlyphs" transform="rotate(-90 56.3 160.0)" stroke="#000" stroke-width="0.2">10</text>
<path d="M60.5 212.7h-2.4M60.5 198.9h-2.4M60.5 185.1h-2.4M60.5 171.2h-2.4M60.5 157.4h-2.4" stroke="#000" stroke-width="0.9"/>
<path d="M60.5 208.5h-1.4M60.5 206.1h-1.4M60.5 203.0h-1.4M60.5 201.0h-1.4M60.5 194.7h-1.4M60.5 192.3h-1.4M60.5 189.2h-1.4M60.5 187.2h-1.4M60.5 180.9h-1.4M60.5 178.5h-1.4M60.5 175.4h-1.4M60.5 173.4h-1.4M60.5 167.1h-1.4M60.5 164.6h-1.4M60.5 161.6h-1.4M60.5 159.5h-1.4" stroke="#000" stroke-width="0.6"/>
<text x="85.6" y="150.4" font-size="6.9" font-weight="bold" text-anchor="middle" textLength="31" lengthAdjust="spacingAndGlyphs" fill="#333">32D/BA-v</text>
<path d="M59.7 214.2L59.7 198.9L60.2 198.8L61.7 199.7L64.5 199.3L65.5 199.8L68.0 200.4L69.0 200.3L70.5 201.6L70.7 202.3L72.0 203.8L72.2 205.4L72.9 207.1L74.1 213.1Z" fill="#050505" clip-path="url(#c2)"/>
<path d="M61.3 161.4V196.1" stroke="#111" stroke-width="1.4"/>
<path d="M61.6 204.0h0.9M69.8 200.3h0.9M75.4 200.6h0.9M62.1 206.7h0.9M68.9 209.6h0.9M65.5 205.6h0.9M66.0 204.1h0.9M68.0 207.2h0.9M64.5 207.6h0.9M66.9 206.2h0.9M71.5 199.2h0.9M68.0 202.0h0.9M62.6 206.1h0.9M64.6 210.5h0.9M63.0 199.4h0.9M69.1 205.0h0.9M65.7 211.1h0.9M63.4 204.9h0.9M67.6 208.2h0.9M64.9 210.9h0.9M76.0 204.8h0.9M74.5 197.6h0.9M72.7 205.0h0.9M67.6 205.1h0.9M64.4 201.1h0.9M65.4 212.0h0.9M71.6 205.0h0.9M64.9 203.5h0.9M69.7 207.0h0.9M65.0 202.2h0.9M72.3 209.8h0.9M63.2 210.7h0.9M62.5 209.2h0.9M63.1 204.7h0.9M69.0 208.3h0.9M71.1 203.0h0.9M67.0 208.5h0.9M63.9 205.9h0.9M61.7 206.9h0.9M70.8 209.9h0.9M65.5 205.6h0.9M65.6 207.4h0.9M67.1 204.3h0.9M73.7 206.1h0.9M73.3 211.5h0.9M65.0 208.2h0.9M72.2 205.1h0.9M67.4 204.1h0.9M67.2 205.0h0.9M67.3 210.7h0.9M72.6 207.1h0.9M67.8 210.1h0.9M65.8 202.0h0.9M71.5 202.6h0.9M70.8 202.4h0.9M74.4 202.1h0.9M63.7 199.0h0.9M69.9 209.5h0.9M66.2 195.8h0.9M66.8 205.2h0.9M65.5 205.3h0.9M65.5 203.5h0.9M68.6 211.0h0.9M69.9 201.6h0.9M67.7 207.1h0.9M72.8 211.6h0.9M69.1 211.6h0.9M65.3 208.2h0.9M70.7 202.6h0.9M64.2 199.1h0.9M67.7 206.3h0.9M65.7 208.6h0.9M67.4 205.4h0.9M65.2 202.5h0.9M64.6 206.9h0.9M69.4 202.9h0.9M71.0 202.2h0.9M70.3 208.3h0.9M65.9 205.8h0.9M68.9 210.1h0.9M61.6 207.7h0.9M64.0 209.2h0.9M72.5 206.7h0.9M66.6 207.3h0.9M69.3 207.2h0.9M65.4 203.4h0.9M66.3 211.6h0.9M68.1 206.4h0.9M72.0 201.0h0.9M63.0 201.9h0.9M64.8 209.2h0.9M69.4 197.9h0.9M72.9 204.0h0.9M66.7 201.3h0.9M64.4 203.4h0.9M62.9 205.1h0.9M70.5 208.0h0.9M63.0 207.0h0.9M67.1 209.7h0.9M65.7 208.4h0.9M75.5 206.9h0.9M62.6 207.9h0.9M63.8 204.9h0.9M67.8 207.9h0.9M65.9 210.1h0.9M66.2 201.0h0.9M70.5 205.0h0.9M71.9 203.7h0.9M69.3 207.8h0.9M71.4 208.6h0.9M69.7 204.4h0.9M67.0 207.4h0.9M68.7 209.5h0.9M66.2 203.5h0.9M64.7 208.2h0.9M65.3 204.2h0.9M65.9 195.3h0.9M65.6 205.4h0.9M70.1 198.1h0.9M65.8 208.5h0.9M69.0 211.6h0.9M71.3 202.1h0.9M69.6 205.1h0.9M64.5 202.9h0.9M65.4 202.9h0.9M71.1 208.1h0.9M72.7 208.2h0.9M64.5 210.9h0.9M64.4 204.5h0.9M66.3 206.7h0.9M71.8 203.9h0.9M68.4 206.4h0.9M61.9 201.9h0.9M66.1 208.2h0.9M68.3 208.5h0.9M67.2 204.6h0.9M68.7 202.3h0.9M61.6 205.1h0.9M61.2 204.3h0.9M64.0 204.2h0.9M66.8 203.1h0.9M65.3 199.2h0.9M67.6 202.8h0.9M68.6 194.5h0.9M63.8 207.5h0.9M67.4 206.9h0.9M67.6 202.4h0.9M70.0 206.3h0.9M67.1 204.6h0.9M69.2 206.9h0.9M71.6 208.4h0.9M64.5 205.6h0.9M70.7 204.9h0.9M68.6 208.7h0.9M66.3 196.6h0.9M67.5 207.4h0.9M67.6 203.3h0.9M71.9 205.9h0.9M64.5 203.4h0.9M68.5 201.9h0.9M72.3 211.0h0.9M72.5 209.0h0.9M72.0 208.6h0.9M72.6 204.4h0.9M67.5 209.8h0.9M66.7 211.2h0.9M67.3 209.4h0.9M67.3 200.2h0.9M68.1 212.1h0.9M69.3 204.0h0.9M67.1 198.3h0.9M66.2 210.4h0.9M63.2 203.7h0.9M68.7 204.4h0.9M75.9 195.7h0.9M66.7 207.4h0.9M76.2 207.1h0.9M69.1 208.0h0.9M66.3 204.8h0.9M65.2 197.6h0.9M68.1 206.4h0.9M66.6 205.4h0.9M64.0 206.4h0.9M65.2 207.4h0.9M79.8 208.2h0.9M70.5 210.0h0.9M69.9 210.0h0.9M64.9 206.5h0.9M64.0 210.6h0.9M70.4 204.5h0.9M72.1 201.7h0.9M66.6 209.2h0.9M66.9 208.2h0.9M71.8 207.9h0.9M62.5 209.6h0.9M66.6 207.0h0.9M64.7 200.6h0.9M61.9 205.0h0.9M62.6 194.9h0.9M71.7 201.5h0.9M93.5 182.9h0.9M88.9 185.7h0.9M93.4 183.3h0.9M94.2 182.1h0.9M95.8 181.0h0.9M90.5 175.8h0.9M95.4 185.9h0.9M94.0 182.9h0.9M95.9 182.7h0.9M98.2 175.7h0.9M96.2 180.4h0.9M94.6 178.0h0.9M93.4 177.4h0.9M92.5 189.8h0.9M100.1 181.0h0.9M97.5 177.6h0.9M87.9 174.6h0.9M95.9 186.0h0.9M95.4 177.5h0.9M94.8 177.5h0.9M91.7 180.2h0.9M94.4 178.2h0.9M93.1 177.7h0.9M96.1 185.9h0.9M94.9 188.8h0.9M91.1 182.0h0.9M92.3 180.4h0.9M95.8 183.0h0.9M98.6 179.1h0.9M92.1 180.3h0.9M96.3 178.5h0.9M97.9 186.9h0.9M91.6 182.3h0.9M98.3 174.3h0.9M96.1 180.2h0.9M91.6 185.6h0.9M96.1 179.3h0.9M96.7 183.3h0.9M97.6 183.0h0.9M96.6 176.9h0.9M94.4 181.5h0.9M87.9 188.5h0.9M94.5 177.3h0.9M90.5 181.9h0.9" stroke="#000" stroke-width="0.9" fill="none" opacity="1"/>
<path d="M98.2 180.7h0.9M96.3 184.6h0.9M92.5 182.3h0.9M88.9 184.1h0.9M89.1 178.3h0.9M84.8 188.3h0.9M81.4 181.2h0.9M97.2 182.9h0.9M87.8 182.4h0.9M100.0 179.6h0.9M95.3 193.5h0.9M84.8 185.6h0.9M99.0 189.1h0.9M88.9 178.8h0.9M90.6 184.6h0.9M97.1 183.3h0.9M89.8 189.7h0.9M99.5 184.3h0.9M89.2 188.4h0.9M102.2 181.4h0.9M103.3 190.8h0.9M88.9 190.0h0.9M66.6 173.6h0.9M72.6 180.3h0.9M69.4 182.9h0.9M74.6 188.7h0.9M62.4 185.0h0.9M68.5 182.2h0.9M73.8 181.1h0.9M68.6 191.6h0.9M68.2 182.8h0.9M88.3 209.1h0.9M92.1 208.0h0.9M85.6 198.5h0.9M92.3 205.5h0.9M94.5 208.4h0.9M78.8 201.0h0.9M77.9 209.0h0.9M78.4 199.2h0.9M94.1 205.6h0.9M77.3 207.2h0.9M93.1 204.5h0.9M77.3 207.3h0.9M86.0 205.9h0.9M100.0 209.0h0.9M96.9 200.0h0.9M84.0 205.0h0.9" stroke="#222" stroke-width="0.9" fill="none" opacity="0.85"/>
<text x="91.6" y="167.7" font-size="8.8" font-weight="bold" textLength="19" lengthAdjust="spacingAndGlyphs" stroke="#000" stroke-width="0.25">3.3%</text>
<clipPath id="c3"><rect x="130" y="157.4" width="51" height="55.29999999999998"/></clipPath>
<rect x="130" y="157.4" width="51" height="55.29999999999998" fill="#fff" stroke="#0a0a0a" stroke-width="1.3"/>
<path d="M130.3 157.4V212.7" stroke="#111" stroke-width="1.6"/>
<path d="M145.9 157.4V212.7M130 196.4H181" stroke="#0a0a0a" stroke-width="1.15"/>
<text x="127.2" y="224.3" font-size="7.2" font-weight="bold" textLength="6" lengthAdjust="spacingAndGlyphs" stroke="#000" stroke-width="0.2">10</text>
<text x="133.3" y="221.5" font-size="6.2" font-weight="bold" textLength="3.4" lengthAdjust="spacingAndGlyphs" stroke="#000" stroke-width="0.2">0</text>
<path d="M130.0 212.7v2.2" stroke="#000" stroke-width="0.9"/>
<text x="139.9" y="224.3" font-size="7.2" font-weight="bold" textLength="6" lengthAdjust="spacingAndGlyphs" stroke="#000" stroke-width="0.2">10</text>
<text x="146.0" y="221.5" font-size="6.2" font-weight="bold" textLength="3.4" lengthAdjust="spacingAndGlyphs" stroke="#000" stroke-width="0.2">1</text>
<path d="M142.8 212.7v2.2" stroke="#000" stroke-width="0.9"/>
<text x="152.7" y="224.3" font-size="7.2" font-weight="bold" textLength="6" lengthAdjust="spacingAndGlyphs" stroke="#000" stroke-width="0.2">10</text>
<text x="158.8" y="221.5" font-size="6.2" font-weight="bold" textLength="3.4" lengthAdjust="spacingAndGlyphs" stroke="#000" stroke-width="0.2">2</text>
<path d="M155.5 212.7v2.2" stroke="#000" stroke-width="0.9"/>
<text x="165.4" y="224.3" font-size="7.2" font-weight="bold" textLength="6" lengthAdjust="spacingAndGlyphs" stroke="#000" stroke-width="0.2">10</text>
<text x="171.5" y="221.5" font-size="6.2" font-weight="bold" textLength="3.4" lengthAdjust="spacingAndGlyphs" stroke="#000" stroke-width="0.2">3</text>
<path d="M168.2 212.7v2.2" stroke="#000" stroke-width="0.9"/>
<text x="178.2" y="224.3" font-size="7.2" font-weight="bold" textLength="6" lengthAdjust="spacingAndGlyphs" stroke="#000" stroke-width="0.2">10</text>
<text x="184.3" y="221.5" font-size="6.2" font-weight="bold" textLength="3.4" lengthAdjust="spacingAndGlyphs" stroke="#000" stroke-width="0.2">4</text>
<path d="M181.0 212.7v2.2" stroke="#000" stroke-width="0.9"/>
<path d="M133.8 212.7v1.3M136.1 212.7v1.3M138.9 212.7v1.3M140.8 212.7v1.3M146.6 212.7v1.3M148.8 212.7v1.3M151.7 212.7v1.3M153.5 212.7v1.3M159.3 212.7v1.3M161.6 212.7v1.3M164.4 212.7v1.3M166.3 212.7v1.3M172.1 212.7v1.3M174.3 212.7v1.3M177.2 212.7v1.3M179.0 212.7v1.3" stroke="#000" stroke-width="0.6"/>
<text x="125.8" y="215.5" font-size="7.2" font-weight="bold" textLength="6" lengthAdjust="spacingAndGlyphs" transform="rotate(-90 125.8 215.5)" stroke="#000" stroke-width="0.2">10</text>
<text x="123.0" y="209.4" font-size="6.2" font-weight="bold" textLength="3.4" lengthAdjust="spacingAndGlyphs" transform="rotate(-90 123.0 209.4)" stroke="#000" stroke-width="0.2">0</text>
<text x="125.8" y="201.7" font-size="7.2" font-weight="bold" textLength="6" lengthAdjust="spacingAndGlyphs" transform="rotate(-90 125.8 201.7)" stroke="#000" stroke-width="0.2">10</text>
<text x="123.0" y="195.6" font-size="6.2" font-weight="bold" textLength="3.4" lengthAdjust="spacingAndGlyphs" transform="rotate(-90 123.0 195.6)" stroke="#000" stroke-width="0.2">1</text>
<text x="125.8" y="187.9" font-size="7.2" font-weight="bold" textLength="6" lengthAdjust="spacingAndGlyphs" transform="rotate(-90 125.8 187.9)" stroke="#000" stroke-width="0.2">10</text>
<text x="123.0" y="181.8" font-size="6.2" font-weight="bold" textLength="3.4" lengthAdjust="spacingAndGlyphs" transform="rotate(-90 123.0 181.8)" stroke="#000" stroke-width="0.2">2</text>
<text x="125.8" y="174.0" font-size="7.2" font-weight="bold" textLength="6" lengthAdjust="spacingAndGlyphs" transform="rotate(-90 125.8 174.0)" stroke="#000" stroke-width="0.2">10</text>
<text x="123.0" y="167.9" font-size="6.2" font-weight="bold" textLength="3.4" lengthAdjust="spacingAndGlyphs" transform="rotate(-90 123.0 167.9)" stroke="#000" stroke-width="0.2">3</text>
<text x="125.8" y="160.0" font-size="7.2" font-weight="bold" textLength="5.6" lengthAdjust="spacingAndGlyphs" transform="rotate(-90 125.8 160.0)" stroke="#000" stroke-width="0.2">10</text>
<path d="M130 212.7h-2.4M130 198.9h-2.4M130 185.1h-2.4M130 171.2h-2.4M130 157.4h-2.4" stroke="#000" stroke-width="0.9"/>
<path d="M130 208.5h-1.4M130 206.1h-1.4M130 203.0h-1.4M130 201.0h-1.4M130 194.7h-1.4M130 192.3h-1.4M130 189.2h-1.4M130 187.2h-1.4M130 180.9h-1.4M130 178.5h-1.4M130 175.4h-1.4M130 173.4h-1.4M130 167.1h-1.4M130 164.6h-1.4M130 161.6h-1.4M130 159.5h-1.4" stroke="#000" stroke-width="0.6"/>
<text x="155.4" y="150.2" font-size="6.9" font-weight="bold" text-anchor="middle" textLength="61" lengthAdjust="spacingAndGlyphs" fill="#333">32D/BA-ICSBP(3E)</text>
<path d="M128.2 214.5L128.6 202.2L129.7 202.2L132.1 203.9L133.0 204.9L133.8 206.0L136.6 208.0L138.1 208.4L138.6 209.3L140.6 211.0L142.0 212.4Z" fill="#050505" clip-path="url(#c3)"/>
<path d="M130.8 165.4V196.4" stroke="#111" stroke-width="1.4"/>
<path d="M131.5 206.6h0.9M137.1 206.0h0.9M142.0 206.1h0.9M140.5 209.3h0.9M130.6 207.5h0.9M131.6 207.0h0.9M138.3 203.7h0.9M141.4 209.7h0.9M134.9 207.4h0.9M137.4 207.2h0.9M133.2 207.0h0.9M142.1 206.1h0.9M138.0 204.3h0.9M132.3 203.5h0.9M135.0 210.7h0.9M137.6 206.6h0.9M139.2 207.1h0.9M137.9 209.3h0.9M138.8 199.7h0.9M134.8 206.4h0.9M143.8 210.2h0.9M145.9 210.1h0.9M134.9 210.8h0.9M131.9 206.7h0.9M133.1 207.5h0.9M140.1 206.6h0.9M137.7 206.6h0.9M140.6 198.7h0.9M134.9 208.9h0.9M141.0 210.5h0.9M135.2 204.5h0.9M134.9 206.7h0.9M137.3 206.7h0.9M151.9 202.7h0.9M142.1 206.7h0.9M134.7 211.5h0.9M136.0 204.1h0.9M138.2 207.6h0.9M138.5 209.3h0.9M138.2 206.2h0.9M137.2 207.9h0.9M135.0 207.3h0.9M133.1 211.7h0.9M135.4 209.6h0.9M133.7 207.7h0.9M131.0 206.0h0.9M142.3 209.2h0.9M142.4 211.3h0.9M140.8 211.8h0.9M132.8 211.1h0.9M134.3 206.5h0.9M140.3 205.4h0.9M137.4 209.6h0.9M138.0 207.1h0.9M140.5 211.0h0.9M130.8 208.2h0.9M137.8 211.8h0.9M136.8 210.1h0.9M148.9 209.1h0.9M138.4 210.6h0.9M141.3 209.0h0.9M131.5 208.0h0.9M137.8 207.3h0.9M132.5 207.1h0.9M135.5 207.0h0.9M137.6 208.2h0.9M138.0 205.3h0.9M138.2 204.6h0.9M136.7 208.0h0.9M141.2 206.9h0.9M134.1 209.2h0.9M134.7 206.4h0.9M134.3 209.9h0.9M137.2 210.7h0.9M145.6 208.2h0.9M138.2 200.6h0.9M136.1 203.2h0.9M141.4 203.1h0.9M143.2 211.4h0.9M134.1 210.0h0.9M143.9 207.2h0.9M135.9 206.4h0.9M142.0 200.8h0.9M143.4 204.9h0.9M140.8 202.7h0.9M131.1 206.2h0.9M140.3 202.7h0.9M139.1 206.1h0.9M142.5 207.2h0.9M138.5 207.7h0.9M145.3 207.1h0.9M136.4 210.7h0.9M132.2 209.0h0.9M132.6 203.1h0.9M138.2 203.0h0.9M145.4 205.9h0.9M134.1 209.2h0.9M140.9 202.8h0.9M142.3 208.4h0.9M138.6 208.5h0.9M138.1 204.8h0.9M131.3 205.9h0.9M134.1 210.4h0.9M132.7 206.3h0.9M139.7 209.8h0.9M134.2 204.6h0.9M130.8 202.8h0.9M141.9 212.1h0.9M145.7 210.0h0.9M137.7 210.9h0.9M140.9 207.4h0.9M131.0 210.9h0.9M142.2 207.1h0.9M139.5 208.1h0.9M137.6 206.4h0.9M135.9 208.3h0.9M136.0 211.7h0.9M141.5 211.0h0.9M140.2 205.0h0.9M142.3 205.0h0.9M142.7 210.6h0.9M132.5 205.7h0.9M141.3 206.0h0.9M145.6 210.7h0.9M133.2 204.1h0.9M142.8 204.6h0.9M136.0 207.3h0.9M134.7 210.0h0.9M146.9 206.1h0.9M140.4 212.1h0.9M134.5 207.8h0.9M133.2 206.0h0.9M136.4 205.3h0.9M130.6 207.3h0.9M143.7 207.6h0.9M138.7 203.2h0.9M133.9 203.0h0.9M135.4 210.4h0.9M137.4 205.1h0.9M140.2 211.6h0.9M138.3 206.8h0.9M135.8 206.1h0.9M135.3 209.4h0.9M134.4 211.7h0.9M149.5 206.4h0.9M137.8 211.2h0.9M139.4 207.5h0.9M133.5 211.8h0.9M139.3 210.1h0.9M131.8 210.5h0.9M140.1 207.7h0.9M134.8 210.2h0.9M136.3 204.2h0.9M136.1 205.4h0.9M131.6 207.8h0.9M133.1 206.3h0.9M136.2 207.3h0.9M139.2 204.2h0.9M135.6 211.0h0.9M142.2 210.2h0.9M136.2 202.9h0.9M139.5 210.3h0.9M136.8 204.7h0.9M144.3 206.1h0.9M133.1 211.3h0.9M137.7 205.2h0.9M139.3 210.7h0.9M141.1 209.8h0.9M132.5 204.2h0.9M138.5 201.6h0.9M136.2 204.1h0.9M145.3 203.7h0.9M135.6 201.6h0.9M133.9 203.6h0.9M135.7 209.6h0.9M135.5 210.8h0.9M136.4 209.9h0.9M137.6 205.1h0.9M135.3 207.0h0.9M138.5 205.6h0.9M143.6 208.4h0.9M138.8 210.5h0.9M141.5 209.7h0.9M145.8 210.0h0.9M139.0 209.9h0.9M132.6 205.9h0.9M138.4 204.1h0.9M145.2 209.5h0.9M142.3 209.1h0.9M134.3 208.9h0.9M131.3 206.4h0.9M145.7 208.1h0.9M140.7 207.5h0.9M138.1 208.2h0.9M133.1 208.6h0.9M134.5 204.5h0.9M134.1 210.3h0.9M132.4 210.0h0.9M137.4 211.0h0.9M144.8 207.3h0.9M147.5 205.7h0.9M134.5 202.6h0.9M139.4 209.2h0.9M146.7 208.9h0.9M134.7 203.3h0.9M135.6 211.7h0.9M140.6 208.1h0.9M139.2 208.9h0.9M138.0 204.6h0.9M138.1 209.3h0.9M144.2 204.9h0.9M137.8 209.5h0.9M137.0 211.0h0.9M147.7 209.3h0.9M132.8 199.9h0.9M141.7 207.8h0.9M135.4 204.8h0.9M139.9 201.9h0.9M136.6 208.7h0.9M135.5 208.6h0.9M140.6 202.8h0.9M134.4 208.5h0.9M141.1 205.4h0.9M140.3 209.7h0.9M137.1 210.9h0.9M140.4 206.3h0.9M141.7 211.2h0.9M138.5 210.0h0.9M134.1 208.8h0.9M135.7 207.1h0.9M130.6 209.0h0.9M132.0 203.3h0.9M133.8 204.5h0.9M134.4 207.5h0.9M136.7 211.9h0.9M138.4 201.8h0.9M138.3 208.7h0.9M145.6 207.3h0.9M137.7 208.6h0.9M143.0 206.1h0.9M139.7 206.9h0.9M136.6 208.9h0.9M136.1 206.6h0.9M144.4 207.3h0.9M139.4 212.0h0.9M145.3 203.2h0.9M146.5 208.4h0.9M137.6 208.9h0.9M131.7 207.5h0.9M135.5 208.6h0.9M136.0 207.5h0.9M140.7 202.5h0.9M133.3 208.8h0.9M133.8 206.3h0.9M133.6 209.1h0.9M142.7 207.6h0.9M134.6 209.6h0.9M134.7 201.3h0.9M137.4 206.9h0.9M132.9 210.6h0.9M136.2 206.3h0.9M136.1 207.9h0.9M138.4 209.1h0.9M133.4 203.7h0.9M135.0 201.9h0.9M144.8 204.7h0.9M135.7 207.4h0.9M131.6 201.9h0.9M135.9 211.3h0.9M133.2 210.9h0.9M140.8 210.5h0.9M143.8 207.7h0.9M144.3 205.8h0.9M145.0 198.4h0.9M136.1 205.4h0.9M136.0 212.0h0.9M139.9 208.6h0.9M145.2 203.0h0.9M137.8 200.8h0.9M137.8 204.0h0.9M131.5 211.6h0.9M139.1 207.8h0.9M130.8 199.5h0.9M139.2 209.6h0.9M140.2 208.5h0.9M132.5 197.7h0.9M138.6 211.8h0.9M132.8 203.2h0.9M135.8 202.3h0.9M136.0 211.1h0.9M144.2 209.3h0.9M137.1 211.0h0.9M143.6 207.2h0.9M135.3 209.5h0.9M136.8 208.6h0.9M134.1 209.8h0.9M140.8 211.0h0.9M144.1 207.3h0.9M137.1 209.8h0.9M134.2 211.8h0.9M149.4 205.0h0.9M151.6 206.8h0.9M157.4 207.0h0.9M152.8 207.5h0.9M154.2 206.2h0.9M159.2 203.6h0.9M149.5 205.9h0.9M156.2 208.3h0.9M155.2 207.1h0.9M147.3 204.6h0.9M149.8 206.5h0.9M153.8 209.3h0.9M158.4 207.9h0.9M147.1 204.8h0.9M152.4 209.4h0.9M164.7 208.8h0.9M145.2 212.1h0.9M151.9 211.3h0.9M148.9 208.0h0.9M150.6 211.3h0.9M152.4 205.9h0.9M153.6 210.3h0.9M147.4 210.2h0.9M147.4 205.4h0.9M153.4 207.4h0.9M145.6 203.0h0.9M152.2 209.0h0.9M149.0 208.8h0.9M142.1 209.5h0.9M154.7 209.1h0.9M148.0 208.5h0.9M152.8 211.6h0.9M153.8 209.0h0.9M147.3 211.0h0.9M159.6 206.6h0.9M156.2 209.2h0.9M151.7 204.1h0.9M163.4 202.2h0.9M154.0 207.0h0.9M159.4 206.8h0.9M152.3 210.2h0.9M155.0 206.5h0.9M156.4 209.5h0.9M158.4 206.6h0.9M151.7 207.0h0.9M146.6 209.0h0.9M149.9 209.4h0.9M159.4 207.8h0.9M152.4 208.6h0.9M147.5 205.0h0.9M159.2 208.8h0.9M151.5 204.2h0.9M152.8 211.9h0.9M144.5 205.4h0.9M162.1 206.4h0.9M155.9 205.8h0.9M155.4 207.0h0.9M154.2 207.4h0.9M152.4 209.0h0.9M148.7 208.9h0.9M138.7 204.4h0.9M144.0 211.0h0.9M167.8 208.8h0.9M152.8 211.8h0.9M136.2 207.6h0.9M131.9 208.7h0.9M148.7 206.7h0.9M154.2 206.3h0.9M159.2 208.2h0.9M149.1 211.1h0.9M158.2 208.6h0.9M160.9 208.2h0.9M151.6 211.7h0.9M142.5 206.3h0.9M155.1 210.0h0.9M154.1 209.6h0.9M143.5 207.6h0.9M153.7 207.5h0.9M152.4 210.1h0.9M145.9 206.4h0.9M140.6 211.8h0.9M145.2 202.8h0.9M157.0 207.5h0.9M158.2 207.0h0.9M165.7 210.5h0.9M153.0 208.6h0.9M150.7 210.8h0.9M164.9 206.9h0.9M145.0 210.1h0.9M158.9 203.5h0.9M147.6 205.0h0.9M155.6 209.8h0.9M147.3 204.6h0.9M156.4 201.7h0.9M156.1 207.7h0.9M164.3 211.3h0.9M148.3 207.3h0.9M150.2 205.9h0.9M152.5 211.2h0.9M142.3 207.5h0.9M161.6 210.5h0.9M146.8 205.7h0.9M146.5 203.1h0.9M159.4 208.4h0.9M147.5 203.7h0.9M149.5 206.6h0.9M163.0 206.8h0.9M152.7 211.6h0.9M156.3 207.6h0.9M155.8 206.8h0.9M163.7 178.9h0.9M161.2 176.6h0.9M165.6 185.2h0.9M164.5 186.4h0.9M165.7 183.5h0.9M161.2 185.6h0.9M167.7 185.7h0.9M167.9 181.0h0.9M160.9 188.4h0.9M162.2 184.1h0.9M163.4 183.1h0.9M163.1 180.7h0.9M158.4 191.2h0.9M164.6 174.7h0.9M161.2 178.1h0.9M161.7 172.0h0.9M165.8 190.1h0.9M163.2 186.2h0.9M165.9 177.6h0.9M167.8 175.7h0.9M162.2 181.5h0.9M167.9 183.5h0.9M163.6 179.5h0.9M164.3 183.2h0.9M166.3 189.0h0.9M166.3 183.1h0.9M163.5 189.9h0.9M164.6 182.9h0.9M169.6 189.8h0.9M165.8 182.5h0.9M162.0 187.6h0.9M162.6 187.1h0.9M161.5 183.5h0.9M165.3 183.6h0.9M164.7 184.6h0.9M160.5 178.2h0.9M163.5 190.8h0.9M163.6 179.0h0.9M161.9 183.1h0.9M167.7 180.6h0.9M165.8 183.8h0.9M162.9 178.9h0.9M163.5 179.9h0.9M165.7 175.4h0.9M167.5 186.3h0.9M165.8 189.4h0.9M165.9 175.7h0.9M164.2 184.9h0.9M161.9 178.1h0.9M165.4 185.2h0.9M162.7 182.0h0.9M162.4 180.6h0.9M163.8 187.6h0.9M159.0 181.5h0.9M169.0 184.4h0.9M164.5 186.6h0.9M160.9 177.8h0.9M158.8 176.7h0.9M164.8 186.6h0.9M162.7 180.1h0.9M135.2 211.0h0.9M133.7 201.2h0.9M158.1 199.0h0.9M135.6 198.0h0.9M137.6 204.7h0.9M160.3 199.5h0.9M137.9 208.1h0.9M146.5 201.9h0.9M136.2 200.5h0.9M165.0 198.7h0.9M140.8 207.7h0.9M162.3 210.1h0.9M148.1 210.9h0.9M152.5 201.2h0.9M147.8 207.4h0.9M157.0 198.9h0.9M138.6 210.9h0.9M135.6 208.8h0.9M143.5 200.6h0.9M140.7 203.8h0.9M165.7 199.2h0.9M161.1 201.7h0.9M137.9 207.8h0.9M143.6 199.7h0.9M146.2 208.9h0.9M161.3 205.3h0.9M132.4 208.1h0.9M152.6 210.0h0.9M164.4 201.7h0.9M160.8 208.9h0.9M141.0 202.3h0.9M144.7 202.1h0.9M144.9 198.6h0.9M139.7 210.2h0.9M146.0 206.2h0.9M162.2 208.0h0.9M140.3 210.3h0.9M159.3 211.4h0.9M156.8 207.9h0.9M159.6 200.7h0.9M154.3 202.5h0.9M160.5 198.9h0.9M150.3 201.9h0.9M159.9 202.0h0.9M160.7 209.3h0.9M161.9 199.0h0.9M163.9 207.8h0.9M155.0 206.5h0.9M133.6 209.6h0.9M150.6 203.6h0.9" stroke="#000" stroke-width="0.9" fill="none" opacity="1"/>
<path d="M151.5 179.0h0.9M165.0 192.2h0.9M163.8 195.1h0.9M165.5 180.8h0.9M154.9 189.9h0.9M149.2 187.4h0.9M150.0 175.1h0.9M159.3 177.3h0.9M168.5 193.3h0.9M158.2 178.3h0.9M150.6 185.1h0.9M159.5 182.0h0.9M163.8 185.6h0.9M165.1 176.3h0.9M149.5 182.5h0.9M158.6 179.6h0.9M162.7 178.9h0.9M155.0 184.5h0.9M163.7 190.9h0.9M156.2 183.8h0.9M168.4 194.5h0.9M161.6 176.3h0.9M158.0 188.0h0.9M154.1 174.8h0.9M169.6 194.0h0.9M150.8 184.2h0.9M161.6 180.6h0.9M149.5 190.5h0.9M165.0 183.6h0.9M149.9 182.7h0.9" stroke="#222" stroke-width="0.9" fill="none" opacity="0.85"/>
<text x="160.8" y="167.3" font-size="8.8" font-weight="bold" textLength="19.2" lengthAdjust="spacingAndGlyphs" stroke="#000" stroke-width="0.25">6.2%</text>
<clipPath id="c4"><rect x="58.8" y="285" width="52.2" height="55.30000000000001"/></clipPath>
<rect x="58.8" y="285" width="52.2" height="55.30000000000001" fill="#fff" stroke="#0a0a0a" stroke-width="1.3"/>
<path d="M59.099999999999994 285V340.3" stroke="#111" stroke-width="1.6"/>
<path d="M86.3 285V340.3M58.8 324.2H111" stroke="#0a0a0a" stroke-width="1.15"/>
<text x="56.0" y="351.9" font-size="7.2" font-weight="bold" textLength="6" lengthAdjust="spacingAndGlyphs" stroke="#000" stroke-width="0.2">10</text>
<text x="62.1" y="349.1" font-size="6.2" font-weight="bold" textLength="3.4" lengthAdjust="spacingAndGlyphs" stroke="#000" stroke-width="0.2">0</text>
<path d="M58.8 340.3v2.2" stroke="#000" stroke-width="0.9"/>
<text x="69.0" y="351.9" font-size="7.2" font-weight="bold" textLength="6" lengthAdjust="spacingAndGlyphs" stroke="#000" stroke-width="0.2">10</text>
<text x="75.1" y="349.1" font-size="6.2" font-weight="bold" textLength="3.4" lengthAdjust="spacingAndGlyphs" stroke="#000" stroke-width="0.2">1</text>
<path d="M71.8 340.3v2.2" stroke="#000" stroke-width="0.9"/>
<text x="82.1" y="351.9" font-size="7.2" font-weight="bold" textLength="6" lengthAdjust="spacingAndGlyphs" stroke="#000" stroke-width="0.2">10</text>
<text x="88.2" y="349.1" font-size="6.2" font-weight="bold" textLength="3.4" lengthAdjust="spacingAndGlyphs" stroke="#000" stroke-width="0.2">2</text>
<path d="M84.9 340.3v2.2" stroke="#000" stroke-width="0.9"/>
<text x="95.2" y="351.9" font-size="7.2" font-weight="bold" textLength="6" lengthAdjust="spacingAndGlyphs" stroke="#000" stroke-width="0.2">10</text>
<text x="101.2" y="349.1" font-size="6.2" font-weight="bold" textLength="3.4" lengthAdjust="spacingAndGlyphs" stroke="#000" stroke-width="0.2">3</text>
<path d="M98.0 340.3v2.2" stroke="#000" stroke-width="0.9"/>
<text x="108.2" y="351.9" font-size="7.2" font-weight="bold" textLength="6" lengthAdjust="spacingAndGlyphs" stroke="#000" stroke-width="0.2">10</text>
<text x="114.3" y="349.1" font-size="6.2" font-weight="bold" textLength="3.4" lengthAdjust="spacingAndGlyphs" stroke="#000" stroke-width="0.2">4</text>
<path d="M111.0 340.3v2.2" stroke="#000" stroke-width="0.9"/>
<path d="M62.7 340.3v1.3M65.0 340.3v1.3M67.9 340.3v1.3M69.8 340.3v1.3M75.8 340.3v1.3M78.1 340.3v1.3M81.0 340.3v1.3M82.9 340.3v1.3M88.8 340.3v1.3M91.1 340.3v1.3M94.0 340.3v1.3M95.9 340.3v1.3M101.9 340.3v1.3M104.2 340.3v1.3M107.1 340.3v1.3M109.0 340.3v1.3" stroke="#000" stroke-width="0.6"/>
<text x="54.6" y="343.1" font-size="7.2" font-weight="bold" textLength="6" lengthAdjust="spacingAndGlyphs" transform="rotate(-90 54.6 343.1)" stroke="#000" stroke-width="0.2">10</text>
<text x="51.8" y="337.0" font-size="6.2" font-weight="bold" textLength="3.4" lengthAdjust="spacingAndGlyphs" transform="rotate(-90 51.8 337.0)" stroke="#000" stroke-width="0.2">0</text>
<text x="54.6" y="329.3" font-size="7.2" font-weight="bold" textLength="6" lengthAdjust="spacingAndGlyphs" transform="rotate(-90 54.6 329.3)" stroke="#000" stroke-width="0.2">10</text>
<text x="51.8" y="323.2" font-size="6.2" font-weight="bold" textLength="3.4" lengthAdjust="spacingAndGlyphs" transform="rotate(-90 51.8 323.2)" stroke="#000" stroke-width="0.2">1</text>
<text x="54.6" y="315.4" font-size="7.2" font-weight="bold" textLength="6" lengthAdjust="spacingAndGlyphs" transform="rotate(-90 54.6 315.4)" stroke="#000" stroke-width="0.2">10</text>
<text x="51.8" y="309.3" font-size="6.2" font-weight="bold" textLength="3.4" lengthAdjust="spacingAndGlyphs" transform="rotate(-90 51.8 309.3)" stroke="#000" stroke-width="0.2">2</text>
<text x="54.6" y="301.6" font-size="7.2" font-weight="bold" textLength="6" lengthAdjust="spacingAndGlyphs" transform="rotate(-90 54.6 301.6)" stroke="#000" stroke-width="0.2">10</text>
<text x="51.8" y="295.5" font-size="6.2" font-weight="bold" textLength="3.4" lengthAdjust="spacingAndGlyphs" transform="rotate(-90 51.8 295.5)" stroke="#000" stroke-width="0.2">3</text>
<text x="54.6" y="287.6" font-size="7.2" font-weight="bold" textLength="5.6" lengthAdjust="spacingAndGlyphs" transform="rotate(-90 54.6 287.6)" stroke="#000" stroke-width="0.2">10</text>
<path d="M58.8 340.3h-2.4M58.8 326.5h-2.4M58.8 312.6h-2.4M58.8 298.8h-2.4M58.8 285.0h-2.4" stroke="#000" stroke-width="0.9"/>
<path d="M58.8 336.1h-1.4M58.8 333.7h-1.4M58.8 330.6h-1.4M58.8 328.6h-1.4M58.8 322.3h-1.4M58.8 319.9h-1.4M58.8 316.8h-1.4M58.8 314.8h-1.4M58.8 308.5h-1.4M58.8 306.1h-1.4M58.8 303.0h-1.4M58.8 301.0h-1.4M58.8 294.7h-1.4M58.8 292.2h-1.4M58.8 289.2h-1.4M58.8 287.1h-1.4" stroke="#000" stroke-width="0.6"/>
<text x="83.3" y="279.3" font-size="6.9" font-weight="bold" text-anchor="middle" textLength="56.5" lengthAdjust="spacingAndGlyphs" fill="#333">32D/BA-ICSBP-off</text>
<path d="M103.5 332.6L104.2 334.1L103.8 335.5L103.4 336.9L101.5 337.5L100.8 338.6L99.6 339.4L98.2 339.8L97.1 340.7L95.6 340.5L94.2 341.9L92.8 340.8L91.5 340.3L90.2 339.8L88.3 340.1L87.8 338.4L86.5 337.7L85.8 336.5L84.5 335.5L83.9 334.1L85.0 332.6L84.5 331.2L84.3 329.7L85.7 328.6L85.8 327.0L87.1 326.1L88.8 325.7L89.5 324.2L91.2 324.1L92.8 324.6L94.2 323.6L95.8 323.3L97.2 324.2L98.5 324.8L99.7 325.6L101.5 325.9L102.2 327.3L102.3 328.8L103.1 330.0L103.4 331.3Z" fill="#050505" clip-path="url(#c4)"/>
<path d="M103.4 330.1h0.9M102.3 333.7h0.9M85.2 335.6h0.9M91.7 333.2h0.9M82.8 330.8h0.9M95.6 327.5h0.9M95.6 328.7h0.9M108.6 321.3h0.9M88.7 334.3h0.9M90.6 320.6h0.9M95.8 336.4h0.9M89.4 339.6h0.9M97.2 338.2h0.9M85.0 332.2h0.9M102.2 332.2h0.9M95.3 329.0h0.9M100.8 328.7h0.9M94.9 321.7h0.9M94.6 333.3h0.9M80.9 332.0h0.9M106.7 324.6h0.9M79.8 331.4h0.9M91.0 331.1h0.9M86.6 325.3h0.9M86.7 335.5h0.9M93.9 336.4h0.9M87.7 335.2h0.9M91.5 332.7h0.9M99.9 332.4h0.9M92.1 323.7h0.9M94.6 336.2h0.9M90.4 331.9h0.9M83.5 325.4h0.9M96.6 338.8h0.9M92.3 323.7h0.9M91.9 324.2h0.9M96.0 331.4h0.9M100.5 330.3h0.9M96.2 333.2h0.9M96.9 324.7h0.9M98.5 336.7h0.9M80.3 318.4h0.9M94.3 335.7h0.9M97.6 336.7h0.9M90.3 329.2h0.9M96.5 335.3h0.9M97.7 333.9h0.9M91.2 337.8h0.9M97.1 337.6h0.9M78.7 337.4h0.9M79.3 333.3h0.9M90.1 332.8h0.9M91.3 330.6h0.9M95.4 334.0h0.9M89.3 319.2h0.9M89.4 335.0h0.9M89.1 334.4h0.9M91.9 327.4h0.9M93.6 331.9h0.9M100.1 325.4h0.9M88.9 338.0h0.9M99.7 329.7h0.9M89.4 334.0h0.9M85.6 329.6h0.9M92.8 319.6h0.9M97.8 336.1h0.9M100.7 324.8h0.9M86.3 328.0h0.9M88.2 330.6h0.9M95.5 334.5h0.9M103.1 326.6h0.9M99.6 333.0h0.9M87.0 333.0h0.9M89.7 337.4h0.9M102.2 329.0h0.9M88.7 332.9h0.9M87.8 336.8h0.9M95.3 328.3h0.9M90.0 335.9h0.9M89.4 331.2h0.9M99.3 338.9h0.9M98.2 332.7h0.9M104.6 335.6h0.9M96.9 335.2h0.9M98.7 333.6h0.9M93.2 323.9h0.9M106.9 325.5h0.9M80.9 328.5h0.9M106.1 338.5h0.9M90.5 333.6h0.9M94.0 321.9h0.9M92.1 333.7h0.9M101.4 326.0h0.9M80.3 324.0h0.9M96.2 332.6h0.9M95.1 333.0h0.9M91.9 325.1h0.9M97.0 334.2h0.9M97.8 338.7h0.9M86.5 320.1h0.9M88.5 334.3h0.9M94.1 336.0h0.9M93.1 329.1h0.9M95.7 334.9h0.9M88.2 339.0h0.9M101.3 334.5h0.9M93.5 331.0h0.9M84.0 335.6h0.9M88.2 329.6h0.9M100.4 327.4h0.9M91.0 336.7h0.9M105.7 328.6h0.9M101.0 328.8h0.9M96.6 334.7h0.9M87.1 337.5h0.9M105.4 332.5h0.9M95.9 326.1h0.9M105.3 332.5h0.9M86.3 336.2h0.9M85.1 328.6h0.9M81.0 339.4h0.9M107.9 328.9h0.9M90.1 329.2h0.9M90.7 335.1h0.9M103.2 327.0h0.9M96.9 322.8h0.9M103.6 331.7h0.9M93.5 339.3h0.9M89.2 332.5h0.9M96.5 331.2h0.9M103.6 328.5h0.9M100.4 339.3h0.9M82.1 327.2h0.9M88.6 329.4h0.9M96.6 331.3h0.9M94.7 329.8h0.9M93.7 334.7h0.9M98.8 328.1h0.9M93.5 328.2h0.9M93.1 324.7h0.9M100.1 335.7h0.9M93.4 328.6h0.9M91.4 328.7h0.9M87.0 335.2h0.9M98.0 324.0h0.9M82.3 335.0h0.9M81.9 339.6h0.9M91.1 332.6h0.9M94.2 329.3h0.9M93.3 330.6h0.9M101.9 331.7h0.9M94.0 329.4h0.9M90.3 328.4h0.9M101.1 333.4h0.9M104.5 337.5h0.9M95.5 331.3h0.9M87.4 333.5h0.9M92.2 324.0h0.9M95.5 334.8h0.9M95.4 329.8h0.9M97.1 337.8h0.9M92.3 334.9h0.9M100.6 329.7h0.9M95.3 328.4h0.9M97.9 330.3h0.9M101.3 328.2h0.9M104.7 330.6h0.9M89.0 327.5h0.9M98.3 327.7h0.9M105.4 338.9h0.9M97.4 324.8h0.9M94.1 328.4h0.9M83.0 334.4h0.9M107.8 329.4h0.9M99.2 338.9h0.9M88.2 330.4h0.9M95.9 334.7h0.9M87.1 333.3h0.9M93.5 337.1h0.9M84.3 329.3h0.9M91.1 330.6h0.9M98.7 328.9h0.9M99.4 337.5h0.9M100.2 331.1h0.9M89.1 330.9h0.9M98.3 332.8h0.9M97.8 335.2h0.9M88.7 327.3h0.9M103.1 329.7h0.9M89.0 327.3h0.9M100.2 326.3h0.9M88.8 337.6h0.9M95.0 332.5h0.9M90.2 331.0h0.9M91.1 332.1h0.9M99.0 325.6h0.9M88.5 321.3h0.9M103.5 331.8h0.9M94.1 331.9h0.9M100.4 333.9h0.9M99.5 331.3h0.9M93.4 331.9h0.9M82.7 337.9h0.9M84.4 327.0h0.9M98.4 332.5h0.9M105.7 339.4h0.9M88.7 331.8h0.9M100.4 331.1h0.9M93.4 330.4h0.9M102.7 319.4h0.9M102.1 337.7h0.9M93.8 335.1h0.9M88.2 338.0h0.9M102.9 331.9h0.9M92.1 329.7h0.9M93.0 325.7h0.9M94.1 335.1h0.9M96.1 334.7h0.9M84.7 327.3h0.9M98.1 337.4h0.9M87.1 329.2h0.9M87.6 335.6h0.9M96.3 332.4h0.9M90.2 334.0h0.9M94.4 328.3h0.9M96.3 328.7h0.9M100.1 335.5h0.9M89.9 335.3h0.9M94.6 328.5h0.9M88.5 323.6h0.9M87.2 334.0h0.9M101.7 328.9h0.9M95.2 334.0h0.9M99.0 334.5h0.9M101.8 336.2h0.9M89.5 334.3h0.9M79.7 331.3h0.9M94.3 335.2h0.9M92.3 336.5h0.9M102.4 327.8h0.9M90.8 333.6h0.9M97.2 332.9h0.9M99.4 326.1h0.9M99.0 338.3h0.9M101.1 334.4h0.9M92.7 334.3h0.9M93.7 323.9h0.9M90.4 332.0h0.9M91.0 327.4h0.9M92.8 330.3h0.9M94.6 331.9h0.9M95.3 337.4h0.9M95.0 334.3h0.9M86.6 316.9h0.9M91.7 335.7h0.9M92.1 329.0h0.9M86.5 336.8h0.9M90.9 333.5h0.9M101.2 335.0h0.9M108.1 331.5h0.9M100.1 335.8h0.9M90.1 332.4h0.9M90.7 326.9h0.9M96.1 328.2h0.9M104.6 328.3h0.9M90.8 332.7h0.9M91.0 332.5h0.9M90.4 324.8h0.9M79.2 325.5h0.9M103.6 334.5h0.9M95.2 329.8h0.9M93.3 333.8h0.9M85.6 328.0h0.9M88.7 338.7h0.9M87.6 338.3h0.9M93.7 332.4h0.9M102.6 336.7h0.9M100.0 326.6h0.9M93.6 329.7h0.9M87.4 337.5h0.9M96.0 332.2h0.9M99.6 332.1h0.9M103.4 327.3h0.9M99.7 327.0h0.9M102.9 330.8h0.9M101.8 330.0h0.9M96.7 338.1h0.9M88.6 332.7h0.9M89.0 336.6h0.9M90.5 330.3h0.9M92.9 338.3h0.9M87.7 332.1h0.9M92.2 329.3h0.9M89.3 331.4h0.9M95.4 324.2h0.9M95.6 326.0h0.9M88.2 331.9h0.9M92.6 337.3h0.9M91.3 322.9h0.9M84.2 333.1h0.9M95.8 337.7h0.9M90.9 335.7h0.9M87.6 338.9h0.9M93.8 328.7h0.9M88.9 325.8h0.9M87.9 326.2h0.9M93.9 334.0h0.9M93.2 333.2h0.9M101.5 330.7h0.9M86.4 320.3h0.9M95.7 328.7h0.9M92.7 334.3h0.9M97.1 324.0h0.9M88.3 332.6h0.9M93.3 338.2h0.9M91.1 321.5h0.9M101.5 323.7h0.9M88.2 334.2h0.9M95.7 335.0h0.9M97.5 328.5h0.9M102.0 323.4h0.9M90.6 333.7h0.9M95.1 327.2h0.9M88.4 334.1h0.9M90.3 330.0h0.9M100.3 332.9h0.9M93.5 332.7h0.9M86.9 338.5h0.9M89.5 339.0h0.9M91.4 329.8h0.9M103.4 333.2h0.9M90.2 329.4h0.9M98.0 330.2h0.9M87.2 328.7h0.9M93.5 333.5h0.9M90.1 338.9h0.9M88.3 328.5h0.9M97.3 334.7h0.9M91.8 337.2h0.9M94.5 339.1h0.9M93.0 333.2h0.9M97.5 323.1h0.9M76.1 334.2h0.9M99.9 333.9h0.9M95.4 339.4h0.9M96.3 322.4h0.9M88.3 330.7h0.9M95.1 329.9h0.9M76.0 338.2h0.9M100.0 335.3h0.9M94.3 332.5h0.9M96.5 333.5h0.9M89.7 336.3h0.9M89.1 332.0h0.9M92.0 326.2h0.9M98.0 331.8h0.9M87.0 331.8h0.9M85.7 339.7h0.9M90.7 335.9h0.9M88.2 327.8h0.9M93.6 334.3h0.9M99.9 330.8h0.9M101.0 337.2h0.9M88.8 331.3h0.9M90.8 336.8h0.9M99.9 330.9h0.9M91.2 334.0h0.9M89.4 325.6h0.9M88.2 334.0h0.9M82.9 334.8h0.9M87.1 338.2h0.9M98.5 332.9h0.9M103.3 330.3h0.9M90.9 326.8h0.9M90.1 332.8h0.9M98.4 338.8h0.9M92.5 328.4h0.9M92.1 330.0h0.9M91.3 330.1h0.9M88.8 331.9h0.9M91.0 331.3h0.9M85.7 333.0h0.9M97.7 335.5h0.9M90.8 326.3h0.9M86.2 326.1h0.9M90.2 330.6h0.9M83.3 335.7h0.9M84.7 328.7h0.9M89.8 336.5h0.9M105.5 330.4h0.9M92.5 330.2h0.9M93.0 331.3h0.9M109.4 326.6h0.9M93.5 328.1h0.9M96.4 329.5h0.9M97.7 326.6h0.9M107.2 333.3h0.9M83.3 335.8h0.9M91.3 326.3h0.9M96.9 329.5h0.9M98.7 329.4h0.9M99.7 333.0h0.9M96.4 333.0h0.9M92.0 330.3h0.9M97.0 335.8h0.9M104.6 326.3h0.9M100.9 331.8h0.9M95.6 328.2h0.9M104.3 328.0h0.9M93.7 328.5h0.9M106.0 338.6h0.9M86.1 329.9h0.9M96.4 330.0h0.9M92.0 326.7h0.9M95.7 326.6h0.9M96.5 328.8h0.9M92.1 327.3h0.9M94.9 335.8h0.9M99.9 330.8h0.9M86.9 331.8h0.9M78.0 319.3h0.9M68.5 313.5h0.9M66.4 319.9h0.9M63.6 321.9h0.9M65.7 316.5h0.9M65.6 318.4h0.9M74.3 317.2h0.9M71.7 322.4h0.9M62.6 322.2h0.9M72.5 319.7h0.9M64.6 316.4h0.9M63.5 320.9h0.9M70.0 321.2h0.9M78.8 318.7h0.9M68.5 323.3h0.9M61.6 317.5h0.9M66.8 317.7h0.9M69.6 316.6h0.9M75.2 315.3h0.9M64.3 314.5h0.9M61.1 320.0h0.9M72.3 318.1h0.9M73.5 320.1h0.9M65.6 318.5h0.9M70.8 323.5h0.9M66.4 319.5h0.9M71.8 321.6h0.9M71.1 321.2h0.9M62.9 318.0h0.9M81.6 319.2h0.9M69.3 319.3h0.9M69.6 315.4h0.9M65.0 318.2h0.9M69.7 316.5h0.9M68.2 316.8h0.9M61.5 317.0h0.9M64.4 320.7h0.9M76.2 320.0h0.9M67.6 317.3h0.9M60.2 317.3h0.9M77.4 321.4h0.9M70.0 318.0h0.9M68.8 319.6h0.9M68.8 319.7h0.9M64.6 318.7h0.9M66.9 321.2h0.9M62.0 321.8h0.9M68.3 317.4h0.9M68.9 318.9h0.9M67.5 319.7h0.9M65.6 314.5h0.9M72.6 318.6h0.9M78.0 319.6h0.9M65.0 320.0h0.9M81.0 321.3h0.9M62.8 318.4h0.9M60.0 320.2h0.9M71.9 316.1h0.9M71.3 320.9h0.9M73.2 317.0h0.9M65.0 315.9h0.9M61.7 319.4h0.9M69.0 321.8h0.9M70.3 317.8h0.9M61.0 322.4h0.9M69.7 318.5h0.9M63.3 316.1h0.9M72.3 316.3h0.9M72.0 320.1h0.9M66.7 314.7h0.9M71.1 322.0h0.9M64.3 315.5h0.9M74.8 319.0h0.9M65.4 321.6h0.9M67.3 319.7h0.9M66.6 316.8h0.9M70.0 316.5h0.9M75.6 321.3h0.9M80.8 321.0h0.9M77.7 319.2h0.9M66.4 319.8h0.9M63.6 320.4h0.9M66.3 319.3h0.9M64.1 318.3h0.9M74.2 318.1h0.9M65.1 319.3h0.9M73.6 318.2h0.9M62.4 314.8h0.9M61.4 321.2h0.9M68.3 319.8h0.9M74.7 319.3h0.9M71.4 317.4h0.9M60.0 320.1h0.9M68.3 320.0h0.9M62.9 318.3h0.9M79.9 316.6h0.9M69.3 321.8h0.9M67.5 318.9h0.9M66.4 321.7h0.9M68.3 317.7h0.9M71.2 318.0h0.9M66.0 322.4h0.9M74.2 318.9h0.9M73.2 320.6h0.9M72.0 318.7h0.9M69.2 319.6h0.9M71.9 319.5h0.9M65.8 318.4h0.9M71.3 316.3h0.9M68.8 320.5h0.9M69.7 317.9h0.9M68.7 317.5h0.9M74.2 317.7h0.9M59.7 315.7h0.9M70.4 319.1h0.9M66.2 315.5h0.9M68.0 316.6h0.9M65.2 318.6h0.9M64.6 319.4h0.9M64.7 317.5h0.9M67.6 322.1h0.9M77.4 320.9h0.9M64.8 318.6h0.9M73.8 320.6h0.9M59.9 318.5h0.9M64.7 320.4h0.9M72.3 317.4h0.9M80.5 318.0h0.9M82.2 318.2h0.9M68.3 323.2h0.9M65.9 317.5h0.9M76.9 318.5h0.9M71.4 315.6h0.9M78.6 321.0h0.9M70.8 320.3h0.9M66.1 317.5h0.9M60.2 319.5h0.9M75.6 320.7h0.9M73.8 320.3h0.9M63.8 315.5h0.9M72.3 319.0h0.9M74.2 318.0h0.9M64.0 319.7h0.9M65.7 314.7h0.9M65.5 316.5h0.9M62.7 317.3h0.9M74.0 324.2h0.9M78.3 317.7h0.9M75.1 318.5h0.9M71.0 317.0h0.9M68.4 314.6h0.9M78.6 316.8h0.9M72.0 317.2h0.9M70.3 315.8h0.9M66.7 320.8h0.9M72.1 314.0h0.9M73.5 315.5h0.9M70.4 319.9h0.9M65.3 317.9h0.9M67.5 319.6h0.9M73.8 321.9h0.9M70.6 323.4h0.9M63.6 322.9h0.9M67.4 320.5h0.9M68.1 318.8h0.9M63.8 319.6h0.9M79.9 319.0h0.9M68.7 318.7h0.9M72.7 318.2h0.9M68.8 319.2h0.9M75.9 320.9h0.9M63.0 317.1h0.9M68.9 320.7h0.9M74.1 318.1h0.9M80.5 318.3h0.9M76.5 322.0h0.9M77.5 319.1h0.9M72.0 315.0h0.9M72.7 321.2h0.9M68.2 321.1h0.9M72.0 322.3h0.9M60.1 316.7h0.9M63.6 316.2h0.9M77.8 316.4h0.9M64.3 317.7h0.9M73.6 317.5h0.9M72.8 319.9h0.9M65.3 313.0h0.9M63.8 315.7h0.9M77.8 316.9h0.9M62.9 319.5h0.9M69.1 316.4h0.9M74.8 320.8h0.9M70.3 316.8h0.9M64.0 313.8h0.9M70.9 319.6h0.9M63.8 318.7h0.9M86.8 316.0h0.9M59.4 320.1h0.9M66.5 317.5h0.9M72.2 318.3h0.9M74.3 319.9h0.9M75.2 318.9h0.9M59.5 321.1h0.9M70.2 315.3h0.9M69.2 320.7h0.9M63.2 318.7h0.9M64.7 316.2h0.9M65.4 321.7h0.9M72.6 318.6h0.9M68.4 318.9h0.9M70.4 319.1h0.9M59.4 320.8h0.9M64.1 312.4h0.9M72.7 315.8h0.9M68.0 318.4h0.9M65.6 319.9h0.9M67.3 318.0h0.9M63.6 318.0h0.9M63.1 318.7h0.9M76.1 321.0h0.9M71.2 315.4h0.9M74.5 320.8h0.9M80.1 313.3h0.9M68.9 317.8h0.9M74.8 316.0h0.9M66.7 324.1h0.9M74.3 313.9h0.9M68.9 321.9h0.9M65.4 320.0h0.9M69.3 315.1h0.9M65.4 321.3h0.9M75.3 317.2h0.9M75.0 316.9h0.9M70.2 318.6h0.9M61.9 319.4h0.9M66.7 312.1h0.9M64.2 316.6h0.9M64.2 316.3h0.9M65.0 312.8h0.9M73.7 318.8h0.9M70.2 318.0h0.9M69.2 318.0h0.9M62.8 315.0h0.9M69.2 321.0h0.9M70.1 322.5h0.9M61.3 318.0h0.9M65.4 321.6h0.9M78.1 317.4h0.9M72.8 318.0h0.9M94.4 302.9h0.9M98.8 301.1h0.9M95.1 308.2h0.9M99.0 310.2h0.9M94.2 302.6h0.9M95.0 306.2h0.9M95.5 308.9h0.9M90.7 312.2h0.9M95.1 303.5h0.9M97.7 303.3h0.9M94.3 311.4h0.9M97.7 300.5h0.9M96.9 298.7h0.9M93.9 304.5h0.9" stroke="#000" stroke-width="0.9" fill="none" opacity="1"/>
<path d="M76.5 317.2h0.9M71.1 321.8h0.9M65.6 319.1h0.9M84.8 323.3h0.9M60.6 316.0h0.9M75.8 323.3h0.9M65.2 322.2h0.9M72.7 319.0h0.9M89.7 313.7h0.9M70.5 314.7h0.9M64.3 316.3h0.9M82.4 319.4h0.9M63.9 321.8h0.9M76.2 314.6h0.9M86.3 322.0h0.9M66.9 323.3h0.9M85.9 315.5h0.9M60.0 322.5h0.9M86.4 314.1h0.9M84.5 321.5h0.9M80.3 322.2h0.9M91.5 316.6h0.9M86.7 323.1h0.9M70.0 320.5h0.9M81.9 322.3h0.9M78.1 316.0h0.9M68.1 319.0h0.9M64.3 322.5h0.9M88.5 315.7h0.9M82.3 320.4h0.9M63.9 321.6h0.9M84.5 316.4h0.9M63.1 316.1h0.9M84.7 318.1h0.9M86.1 314.8h0.9M63.4 316.8h0.9M88.2 314.8h0.9M62.3 321.3h0.9M62.9 320.3h0.9M62.7 315.7h0.9M81.2 322.6h0.9M73.1 317.9h0.9M61.0 316.7h0.9M67.7 321.7h0.9M82.9 321.6h0.9M77.0 320.7h0.9M64.1 317.2h0.9M69.4 316.1h0.9M83.7 315.4h0.9M70.4 316.1h0.9M82.5 334.3h0.9M72.5 330.5h0.9M84.0 338.6h0.9M71.7 333.2h0.9M82.4 328.7h0.9M66.7 326.5h0.9M73.1 336.1h0.9M64.1 331.3h0.9M85.8 332.0h0.9M69.9 337.2h0.9M83.2 330.5h0.9M63.2 334.2h0.9M79.3 338.4h0.9M77.2 329.5h0.9M73.4 329.2h0.9M71.6 331.8h0.9M83.7 338.1h0.9M84.1 331.9h0.9M85.1 327.0h0.9M83.9 334.3h0.9M82.7 331.0h0.9M85.8 325.4h0.9M82.0 336.9h0.9M69.7 337.0h0.9M65.6 335.9h0.9M72.2 331.0h0.9M65.1 336.6h0.9M79.0 326.3h0.9M85.4 328.2h0.9M69.8 331.0h0.9M75.0 337.9h0.9M84.6 334.2h0.9M69.5 326.6h0.9M61.8 332.5h0.9" stroke="#222" stroke-width="0.9" fill="none" opacity="0.85"/>
<text x="61.7" y="295.9" font-size="8.8" font-weight="bold" textLength="21.6" lengthAdjust="spacingAndGlyphs" stroke="#000" stroke-width="0.25">10.1%</text>
<text x="91" y="320.5" font-size="8.8" font-weight="bold" textLength="23.8" lengthAdjust="spacingAndGlyphs" stroke="#000" stroke-width="0.25">87.3%</text>
<clipPath id="c5"><rect x="130" y="285.4" width="52" height="56.60000000000002"/></clipPath>
<rect x="130" y="285.4" width="52" height="56.60000000000002" fill="#fff" stroke="#0a0a0a" stroke-width="1.3"/>
<path d="M130.3 285.4V342" stroke="#111" stroke-width="1.6"/>
<path d="M146 285.4V342M130 326.7H182" stroke="#0a0a0a" stroke-width="1.15"/>
<text x="127.2" y="353.6" font-size="7.2" font-weight="bold" textLength="6" lengthAdjust="spacingAndGlyphs" stroke="#000" stroke-width="0.2">10</text>
<text x="133.3" y="350.8" font-size="6.2" font-weight="bold" textLength="3.4" lengthAdjust="spacingAndGlyphs" stroke="#000" stroke-width="0.2">0</text>
<path d="M130.0 342v2.2" stroke="#000" stroke-width="0.9"/>
<text x="140.2" y="353.6" font-size="7.2" font-weight="bold" textLength="6" lengthAdjust="spacingAndGlyphs" stroke="#000" stroke-width="0.2">10</text>
<text x="146.3" y="350.8" font-size="6.2" font-weight="bold" textLength="3.4" lengthAdjust="spacingAndGlyphs" stroke="#000" stroke-width="0.2">1</text>
<path d="M143.0 342v2.2" stroke="#000" stroke-width="0.9"/>
<text x="153.2" y="353.6" font-size="7.2" font-weight="bold" textLength="6" lengthAdjust="spacingAndGlyphs" stroke="#000" stroke-width="0.2">10</text>
<text x="159.3" y="350.8" font-size="6.2" font-weight="bold" textLength="3.4" lengthAdjust="spacingAndGlyphs" stroke="#000" stroke-width="0.2">2</text>
<path d="M156.0 342v2.2" stroke="#000" stroke-width="0.9"/>
<text x="166.2" y="353.6" font-size="7.2" font-weight="bold" textLength="6" lengthAdjust="spacingAndGlyphs" stroke="#000" stroke-width="0.2">10</text>
<text x="172.3" y="350.8" font-size="6.2" font-weight="bold" textLength="3.4" lengthAdjust="spacingAndGlyphs" stroke="#000" stroke-width="0.2">3</text>
<path d="M169.0 342v2.2" stroke="#000" stroke-width="0.9"/>
<text x="179.2" y="353.6" font-size="7.2" font-weight="bold" textLength="6" lengthAdjust="spacingAndGlyphs" stroke="#000" stroke-width="0.2">10</text>
<text x="185.3" y="350.8" font-size="6.2" font-weight="bold" textLength="3.4" lengthAdjust="spacingAndGlyphs" stroke="#000" stroke-width="0.2">4</text>
<path d="M182.0 342v2.2" stroke="#000" stroke-width="0.9"/>
<path d="M133.9 342v1.3M136.2 342v1.3M139.1 342v1.3M141.0 342v1.3M146.9 342v1.3M149.2 342v1.3M152.1 342v1.3M154.0 342v1.3M159.9 342v1.3M162.2 342v1.3M165.1 342v1.3M167.0 342v1.3M172.9 342v1.3M175.2 342v1.3M178.1 342v1.3M180.0 342v1.3" stroke="#000" stroke-width="0.6"/>
<text x="125.8" y="344.8" font-size="7.2" font-weight="bold" textLength="6" lengthAdjust="spacingAndGlyphs" transform="rotate(-90 125.8 344.8)" stroke="#000" stroke-width="0.2">10</text>
<text x="123.0" y="338.7" font-size="6.2" font-weight="bold" textLength="3.4" lengthAdjust="spacingAndGlyphs" transform="rotate(-90 123.0 338.7)" stroke="#000" stroke-width="0.2">0</text>
<text x="125.8" y="330.7" font-size="7.2" font-weight="bold" textLength="6" lengthAdjust="spacingAndGlyphs" transform="rotate(-90 125.8 330.7)" stroke="#000" stroke-width="0.2">10</text>
<text x="123.0" y="324.6" font-size="6.2" font-weight="bold" textLength="3.4" lengthAdjust="spacingAndGlyphs" transform="rotate(-90 123.0 324.6)" stroke="#000" stroke-width="0.2">1</text>
<text x="125.8" y="316.5" font-size="7.2" font-weight="bold" textLength="6" lengthAdjust="spacingAndGlyphs" transform="rotate(-90 125.8 316.5)" stroke="#000" stroke-width="0.2">10</text>
<text x="123.0" y="310.4" font-size="6.2" font-weight="bold" textLength="3.4" lengthAdjust="spacingAndGlyphs" transform="rotate(-90 123.0 310.4)" stroke="#000" stroke-width="0.2">2</text>
<text x="125.8" y="302.3" font-size="7.2" font-weight="bold" textLength="6" lengthAdjust="spacingAndGlyphs" transform="rotate(-90 125.8 302.3)" stroke="#000" stroke-width="0.2">10</text>
<text x="123.0" y="296.2" font-size="6.2" font-weight="bold" textLength="3.4" lengthAdjust="spacingAndGlyphs" transform="rotate(-90 123.0 296.2)" stroke="#000" stroke-width="0.2">3</text>
<text x="125.8" y="288.0" font-size="7.2" font-weight="bold" textLength="5.6" lengthAdjust="spacingAndGlyphs" transform="rotate(-90 125.8 288.0)" stroke="#000" stroke-width="0.2">10</text>
<path d="M130 342.0h-2.4M130 327.9h-2.4M130 313.7h-2.4M130 299.5h-2.4M130 285.4h-2.4" stroke="#000" stroke-width="0.9"/>
<path d="M130 337.7h-1.4M130 335.2h-1.4M130 332.1h-1.4M130 330.0h-1.4M130 323.6h-1.4M130 321.1h-1.4M130 318.0h-1.4M130 315.9h-1.4M130 309.4h-1.4M130 306.9h-1.4M130 303.8h-1.4M130 301.7h-1.4M130 295.3h-1.4M130 292.8h-1.4M130 289.7h-1.4M130 287.6h-1.4" stroke="#000" stroke-width="0.6"/>
<text x="157.5" y="278.6" font-size="6.9" font-weight="bold" text-anchor="middle" textLength="57" lengthAdjust="spacingAndGlyphs" fill="#333">32D/BA-ICSBP-on</text>
<path d="M171.5 334.2L171.5 335.5L172.2 337.0L171.7 338.3L170.4 339.2L170.2 340.9L168.9 341.8L167.1 341.7L165.7 341.8L164.5 343.0L163.0 343.3L161.6 342.4L160.4 341.8L158.7 342.0L158.0 340.7L156.0 340.7L155.2 339.5L155.0 338.0L154.2 336.9L154.2 335.5L154.2 334.2L154.3 332.9L153.5 331.3L154.7 330.2L155.1 328.8L156.6 328.2L157.1 326.6L158.7 326.2L160.0 325.6L161.6 325.7L163.0 325.3L164.4 326.0L166.2 325.0L167.4 326.1L168.6 327.0L169.8 327.8L170.0 329.4L171.1 330.3L171.5 331.6L172.9 332.7Z" fill="#050505" clip-path="url(#c5)"/>
<path d="M143.1 322.2L145.0 323.5L143.3 324.3L142.3 325.5L139.7 324.6L138.2 324.7L136.4 324.8L136.1 323.6L134.7 323.1L133.7 322.2L134.2 321.2L134.0 319.8L136.3 319.5L138.0 319.0L139.9 319.1L142.0 319.2L142.7 320.4L142.4 321.5Z" fill="#050505" clip-path="url(#c5)"/>
<path d="M169.7 334.5h0.9M170.3 327.1h0.9M162.0 329.5h0.9M156.8 341.4h0.9M152.8 329.6h0.9M169.0 333.5h0.9M163.9 333.9h0.9M164.1 333.1h0.9M157.1 332.5h0.9M163.7 329.3h0.9M153.1 331.2h0.9M161.3 334.1h0.9M163.6 330.2h0.9M162.8 334.0h0.9M163.8 326.3h0.9M153.6 337.1h0.9M160.9 330.8h0.9M154.8 332.4h0.9M162.5 330.4h0.9M160.9 338.6h0.9M167.7 336.8h0.9M162.0 327.0h0.9M170.7 340.0h0.9M164.7 335.9h0.9M162.9 340.5h0.9M167.7 332.3h0.9M163.0 325.7h0.9M158.6 332.4h0.9M177.8 329.8h0.9M168.5 334.4h0.9M161.2 337.2h0.9M151.0 338.9h0.9M174.7 335.5h0.9M162.6 334.8h0.9M167.0 331.5h0.9M163.7 336.6h0.9M160.9 336.0h0.9M165.0 337.7h0.9M157.1 331.2h0.9M160.4 340.2h0.9M164.5 325.4h0.9M165.0 327.3h0.9M157.5 334.7h0.9M160.8 332.5h0.9M174.6 328.9h0.9M172.4 335.8h0.9M163.6 340.7h0.9M165.9 329.7h0.9M153.8 334.1h0.9M166.1 341.1h0.9M147.3 341.0h0.9M167.8 335.1h0.9M165.6 336.1h0.9M159.2 333.4h0.9M163.8 331.7h0.9M154.2 326.5h0.9M166.0 336.7h0.9M163.7 327.9h0.9M168.1 332.0h0.9M166.2 331.7h0.9M148.8 330.4h0.9M171.9 341.1h0.9M164.6 325.1h0.9M160.7 332.5h0.9M165.8 333.4h0.9M165.1 325.5h0.9M154.3 338.8h0.9M176.9 337.4h0.9M154.6 340.5h0.9M151.8 335.8h0.9M160.5 340.4h0.9M170.1 335.0h0.9M173.8 339.1h0.9M160.1 328.9h0.9M177.8 331.9h0.9M165.5 333.4h0.9M160.2 325.7h0.9M162.1 333.4h0.9M168.9 331.3h0.9M153.6 328.4h0.9M162.8 335.3h0.9M167.4 332.0h0.9M166.2 334.7h0.9M173.2 333.7h0.9M163.9 336.9h0.9M170.3 329.2h0.9M160.1 332.6h0.9M150.2 340.8h0.9M169.5 334.1h0.9M168.5 326.6h0.9M172.2 336.2h0.9M155.8 334.3h0.9M167.5 339.1h0.9M164.1 331.3h0.9M167.6 330.0h0.9M162.5 338.0h0.9M154.3 336.0h0.9M151.2 329.2h0.9M155.6 333.5h0.9M167.3 333.7h0.9M168.5 334.5h0.9M161.8 336.6h0.9M161.6 334.7h0.9M169.3 331.0h0.9M169.9 328.2h0.9M161.7 325.0h0.9M165.2 340.6h0.9M154.1 328.7h0.9M165.8 338.3h0.9M168.0 325.3h0.9M166.1 333.6h0.9M163.7 336.5h0.9M161.3 325.2h0.9M156.6 326.5h0.9M155.1 333.3h0.9M170.9 330.3h0.9M158.4 328.0h0.9M152.6 334.3h0.9M160.1 332.8h0.9M157.2 336.5h0.9M155.8 336.9h0.9M159.0 338.1h0.9M157.6 336.3h0.9M165.7 333.6h0.9M172.9 334.9h0.9M157.6 337.6h0.9M158.0 331.2h0.9M163.1 334.9h0.9M173.3 324.9h0.9M161.4 339.9h0.9M162.0 335.7h0.9M172.2 327.6h0.9M163.3 338.1h0.9M159.5 324.9h0.9M157.0 335.0h0.9M171.0 325.9h0.9M169.3 338.8h0.9M172.8 333.2h0.9M159.6 334.8h0.9M172.3 337.3h0.9M173.2 338.1h0.9M159.5 328.7h0.9M174.2 326.1h0.9M160.9 332.3h0.9M157.5 331.0h0.9M162.6 331.3h0.9M163.7 338.9h0.9M158.1 331.9h0.9M152.4 337.7h0.9M168.3 332.6h0.9M160.6 332.4h0.9M155.7 338.0h0.9M159.3 330.2h0.9M166.1 334.6h0.9M159.5 332.8h0.9M160.0 341.0h0.9M169.1 330.2h0.9M162.8 341.2h0.9M165.7 337.5h0.9M150.4 338.4h0.9M165.1 337.0h0.9M165.9 336.8h0.9M159.9 338.7h0.9M163.4 328.5h0.9M156.8 334.8h0.9M165.0 322.5h0.9M150.5 339.5h0.9M153.7 332.7h0.9M159.4 336.9h0.9M156.9 340.5h0.9M155.6 335.6h0.9M164.0 337.2h0.9M158.2 341.0h0.9M162.6 333.9h0.9M161.4 328.4h0.9M167.4 335.8h0.9M157.8 332.5h0.9M163.0 338.5h0.9M161.9 338.9h0.9M165.8 324.8h0.9M158.9 323.4h0.9M161.3 331.8h0.9M166.6 334.9h0.9M162.6 340.6h0.9M166.6 327.6h0.9M158.8 335.7h0.9M173.3 333.0h0.9M162.0 335.4h0.9M167.7 333.5h0.9M164.8 331.8h0.9M159.7 329.8h0.9M167.0 331.1h0.9M166.3 336.1h0.9M168.9 319.9h0.9M157.2 327.6h0.9M162.0 338.2h0.9M171.2 336.0h0.9M160.7 336.8h0.9M149.8 338.9h0.9M163.1 337.2h0.9M156.8 328.3h0.9M159.1 333.8h0.9M165.1 332.1h0.9M165.1 337.6h0.9M156.0 333.5h0.9M153.6 331.1h0.9M168.5 330.3h0.9M174.3 336.7h0.9M168.4 334.5h0.9M168.2 339.7h0.9M163.6 331.2h0.9M161.9 331.6h0.9M158.7 325.2h0.9M160.0 335.7h0.9M160.1 330.0h0.9M165.5 336.4h0.9M160.4 335.6h0.9M157.1 338.5h0.9M157.0 332.2h0.9M163.8 331.8h0.9M172.2 324.8h0.9M163.7 327.3h0.9M164.9 327.2h0.9M166.5 336.8h0.9M173.4 340.3h0.9M160.2 339.0h0.9M160.2 333.4h0.9M160.0 324.7h0.9M166.7 323.3h0.9M161.6 336.8h0.9M163.7 325.7h0.9M159.1 337.6h0.9M152.0 336.4h0.9M160.1 338.0h0.9M152.8 333.3h0.9M167.3 330.6h0.9M160.8 328.9h0.9M169.8 327.0h0.9M157.5 332.3h0.9M164.7 329.6h0.9M166.5 335.8h0.9M164.7 333.7h0.9M165.8 327.8h0.9M155.7 331.8h0.9M156.3 337.7h0.9M174.8 340.5h0.9M165.7 335.8h0.9M158.8 327.2h0.9M166.3 326.2h0.9M164.8 333.3h0.9M167.5 334.3h0.9M163.6 330.9h0.9M152.6 332.2h0.9M167.2 339.5h0.9M171.4 328.8h0.9M157.3 337.7h0.9M164.9 326.0h0.9M151.9 334.8h0.9M160.3 328.6h0.9M152.7 330.3h0.9M147.5 331.5h0.9M176.2 334.5h0.9M161.4 327.9h0.9M165.1 331.5h0.9M157.9 341.3h0.9M165.7 329.3h0.9M172.0 333.7h0.9M166.1 334.8h0.9M170.1 337.2h0.9M160.9 337.8h0.9M160.6 334.7h0.9M172.9 328.4h0.9M156.7 331.9h0.9M160.0 340.8h0.9M172.6 331.6h0.9M164.1 332.1h0.9M167.1 337.5h0.9M167.6 338.0h0.9M174.7 333.1h0.9M167.2 333.0h0.9M163.2 335.2h0.9M162.7 335.8h0.9M157.8 333.2h0.9M159.3 327.9h0.9M158.7 331.4h0.9M162.1 325.8h0.9M161.4 328.1h0.9M158.0 335.0h0.9M169.7 335.5h0.9M160.0 331.7h0.9M171.1 325.4h0.9M169.9 326.1h0.9M159.2 334.2h0.9M166.0 333.7h0.9M168.8 334.2h0.9M158.1 339.9h0.9M172.1 340.7h0.9M160.5 338.0h0.9M153.2 328.6h0.9M170.2 336.6h0.9M161.1 318.6h0.9M165.7 333.0h0.9M147.8 331.1h0.9M163.0 335.2h0.9M167.6 332.6h0.9M157.6 332.1h0.9M150.2 328.1h0.9M175.0 330.4h0.9M169.4 334.6h0.9M167.5 332.6h0.9M157.5 339.3h0.9M161.4 332.0h0.9M165.1 333.0h0.9M161.1 329.3h0.9M164.5 335.7h0.9M174.1 333.9h0.9M152.3 336.5h0.9M176.9 331.7h0.9M158.1 333.1h0.9M145.6 332.2h0.9M161.9 326.0h0.9M166.5 329.4h0.9M151.8 330.2h0.9M170.6 335.0h0.9M159.9 332.6h0.9M168.9 331.3h0.9M165.5 339.1h0.9M157.5 330.9h0.9M165.7 334.0h0.9M162.2 331.2h0.9M171.3 325.5h0.9M163.3 334.5h0.9M163.2 326.7h0.9M162.2 334.8h0.9M158.9 335.7h0.9M148.2 326.0h0.9M163.6 336.1h0.9M162.0 331.6h0.9M164.1 339.7h0.9M168.5 333.6h0.9M160.2 339.6h0.9M166.3 338.7h0.9M161.3 329.5h0.9M164.1 330.7h0.9M170.0 338.5h0.9M149.7 337.5h0.9M171.1 339.5h0.9M160.1 329.5h0.9M168.9 339.4h0.9M163.4 327.9h0.9M153.7 335.4h0.9M158.0 330.4h0.9M165.7 339.5h0.9M150.4 330.5h0.9M170.9 333.8h0.9M160.9 337.4h0.9M156.1 327.5h0.9M169.2 334.0h0.9M169.2 331.8h0.9M155.8 325.1h0.9M164.6 338.8h0.9M165.3 333.8h0.9M160.6 339.8h0.9M162.7 326.4h0.9M171.3 330.6h0.9M165.4 334.0h0.9M169.4 335.3h0.9M170.5 335.1h0.9M160.2 331.3h0.9M167.0 329.6h0.9M168.7 332.7h0.9M157.4 329.4h0.9M167.7 334.1h0.9M161.3 334.0h0.9M160.4 341.1h0.9M164.1 331.6h0.9M164.1 328.7h0.9M156.6 333.1h0.9M145.5 340.2h0.9M175.1 328.1h0.9M162.1 325.7h0.9M164.0 335.1h0.9M167.5 326.9h0.9M159.3 330.6h0.9M161.8 333.8h0.9M159.9 338.2h0.9M178.6 340.2h0.9M172.3 328.3h0.9M169.4 334.1h0.9M170.6 339.6h0.9M167.0 325.1h0.9M163.8 331.4h0.9M165.7 334.2h0.9M169.4 325.5h0.9M158.5 333.6h0.9M165.0 331.9h0.9M162.8 334.3h0.9M169.4 333.4h0.9M164.5 324.4h0.9M147.1 326.2h0.9M165.2 321.8h0.9M165.5 333.5h0.9M163.0 330.1h0.9M160.4 338.4h0.9M165.2 333.9h0.9M160.0 335.1h0.9M170.3 333.9h0.9M160.8 327.8h0.9M163.6 329.1h0.9M154.2 338.6h0.9M159.2 323.2h0.9M162.3 327.0h0.9M156.3 337.8h0.9M165.5 335.1h0.9M161.8 336.6h0.9M172.4 336.6h0.9M162.0 326.6h0.9M167.0 327.3h0.9M164.1 340.9h0.9M159.1 336.6h0.9M148.5 321.1h0.9M141.1 322.8h0.9M140.6 326.1h0.9M140.0 322.2h0.9M138.7 321.8h0.9M139.0 324.7h0.9M139.4 322.0h0.9M139.1 324.0h0.9M136.9 324.6h0.9M136.4 323.8h0.9M149.1 322.5h0.9M138.9 318.3h0.9M143.1 321.8h0.9M144.0 319.9h0.9M142.0 327.1h0.9M141.4 320.8h0.9M132.6 321.8h0.9M142.7 323.6h0.9M133.6 318.8h0.9M134.3 318.8h0.9M137.9 322.6h0.9M149.2 322.4h0.9M146.8 316.9h0.9M147.2 324.2h0.9M141.6 324.2h0.9M142.5 327.5h0.9M143.4 316.7h0.9M138.9 325.7h0.9M137.5 319.9h0.9M137.5 322.7h0.9M140.3 320.0h0.9M142.1 323.6h0.9M134.6 318.5h0.9M139.4 319.7h0.9M136.2 321.4h0.9M139.5 323.5h0.9M143.6 323.1h0.9M145.0 318.9h0.9M142.4 322.9h0.9M133.9 319.8h0.9M141.6 322.0h0.9M132.8 320.2h0.9M147.1 324.3h0.9M139.7 325.8h0.9M134.6 321.3h0.9M144.2 320.8h0.9M133.6 323.5h0.9M147.5 314.3h0.9M140.1 318.1h0.9M137.8 317.6h0.9M152.7 319.8h0.9M139.5 319.7h0.9M134.2 320.5h0.9M140.4 327.0h0.9M140.8 326.4h0.9M133.8 322.0h0.9M137.1 317.2h0.9M158.5 321.1h0.9M140.6 319.6h0.9M136.3 318.7h0.9M144.6 320.6h0.9M138.6 322.3h0.9M133.0 322.5h0.9M138.4 323.1h0.9M137.3 321.9h0.9M142.0 324.7h0.9M135.8 324.7h0.9M134.2 321.2h0.9M140.0 322.2h0.9M138.4 324.5h0.9M135.7 326.3h0.9M142.1 321.9h0.9M140.7 324.6h0.9M135.2 323.5h0.9M144.8 321.1h0.9M134.9 318.7h0.9M141.5 319.4h0.9M152.0 323.5h0.9M132.6 321.0h0.9M147.2 323.8h0.9M134.1 324.9h0.9M136.9 328.4h0.9M136.5 323.6h0.9M142.2 320.5h0.9M138.5 325.2h0.9M141.9 321.6h0.9M141.6 327.0h0.9M144.1 323.2h0.9M141.0 317.2h0.9M140.0 320.4h0.9M143.1 320.0h0.9M141.6 318.7h0.9M143.9 319.6h0.9M139.2 323.5h0.9M137.6 321.8h0.9M144.8 327.0h0.9M142.8 324.6h0.9M136.9 322.1h0.9M138.3 328.5h0.9M138.3 318.3h0.9M131.3 318.0h0.9M146.0 320.6h0.9M149.3 323.7h0.9M141.3 323.7h0.9M143.4 324.5h0.9M134.3 320.1h0.9M136.5 322.1h0.9M138.0 318.1h0.9M135.7 327.1h0.9M150.2 319.3h0.9M141.3 321.7h0.9M135.0 323.9h0.9M138.9 326.7h0.9M141.6 320.9h0.9M143.7 319.7h0.9M143.8 323.8h0.9M140.9 324.0h0.9M140.1 321.8h0.9M137.5 320.9h0.9M139.3 318.7h0.9M142.6 320.8h0.9M142.0 320.3h0.9M141.4 322.2h0.9M143.9 323.2h0.9M144.1 321.3h0.9M139.0 321.0h0.9M132.9 321.4h0.9M144.9 324.1h0.9M134.9 322.7h0.9M143.2 317.8h0.9M141.1 322.8h0.9M143.1 322.6h0.9M149.5 320.6h0.9M145.8 325.5h0.9M139.7 318.4h0.9M146.3 321.7h0.9M142.0 323.2h0.9M144.2 324.8h0.9M132.0 317.6h0.9M140.0 321.8h0.9M143.3 321.4h0.9M138.4 327.8h0.9M146.4 325.2h0.9M144.6 319.5h0.9M138.9 321.6h0.9M133.7 319.2h0.9M140.1 318.2h0.9M142.1 323.2h0.9M138.1 320.8h0.9M142.4 323.2h0.9M141.2 318.2h0.9M131.0 327.9h0.9M135.9 320.7h0.9M135.5 324.2h0.9M137.2 320.3h0.9M135.3 320.5h0.9M131.2 322.6h0.9M145.4 322.3h0.9M136.5 325.5h0.9M141.8 318.8h0.9M136.4 320.0h0.9M139.1 325.4h0.9M135.7 321.4h0.9M139.9 318.3h0.9M136.9 323.6h0.9M145.1 316.3h0.9M142.9 320.9h0.9M145.9 323.6h0.9M149.4 322.7h0.9M137.3 319.3h0.9M131.9 323.4h0.9M142.0 324.2h0.9M141.1 317.4h0.9M137.2 321.1h0.9M140.1 324.1h0.9M146.6 322.6h0.9M133.1 322.5h0.9M138.2 325.1h0.9M144.8 320.5h0.9M144.2 321.8h0.9M141.6 325.8h0.9M133.4 321.6h0.9M147.2 319.6h0.9M140.4 322.2h0.9M137.2 317.9h0.9M135.8 318.9h0.9M144.9 322.5h0.9M142.9 318.3h0.9M141.9 322.2h0.9M144.7 319.7h0.9M143.5 325.8h0.9M148.6 319.1h0.9M133.5 317.5h0.9M144.2 323.6h0.9M141.1 319.3h0.9M145.7 326.5h0.9M139.1 321.4h0.9M145.4 323.3h0.9M146.2 320.6h0.9M141.0 320.8h0.9M136.4 320.9h0.9M137.8 323.3h0.9M137.7 322.0h0.9M135.1 318.2h0.9M146.6 318.9h0.9M148.6 324.6h0.9M137.2 321.9h0.9M138.4 320.0h0.9M145.7 321.4h0.9M144.3 319.8h0.9M135.8 325.7h0.9M137.9 318.6h0.9M138.4 324.9h0.9M138.5 319.7h0.9M142.6 324.7h0.9M138.2 320.9h0.9M137.4 329.7h0.9M138.3 326.9h0.9M138.5 323.0h0.9M139.6 320.9h0.9M137.2 317.8h0.9M131.7 322.3h0.9M136.0 321.5h0.9M138.4 320.3h0.9M135.6 327.3h0.9M133.6 320.3h0.9M137.8 318.4h0.9M134.4 324.3h0.9M144.1 322.2h0.9M156.0 324.2h0.9M145.6 319.4h0.9M144.9 326.7h0.9M137.4 327.1h0.9M135.2 318.5h0.9M139.1 319.4h0.9M142.6 318.6h0.9M139.7 316.1h0.9M139.1 324.9h0.9M138.0 322.7h0.9M144.9 318.6h0.9M132.8 322.0h0.9M140.7 321.0h0.9M134.3 325.4h0.9M133.3 321.0h0.9M139.1 323.9h0.9M137.0 319.4h0.9M149.7 319.3h0.9M143.4 321.4h0.9M136.9 321.7h0.9M138.0 322.7h0.9M139.7 319.0h0.9M137.3 328.7h0.9M148.8 323.7h0.9M140.5 320.9h0.9M146.4 320.5h0.9M135.1 323.8h0.9M134.4 319.5h0.9M146.8 317.1h0.9M139.0 322.2h0.9M140.6 317.5h0.9M138.2 320.8h0.9M149.2 324.7h0.9M135.4 324.4h0.9M142.7 321.5h0.9M138.1 321.0h0.9M131.4 320.0h0.9M144.1 326.0h0.9M148.8 320.7h0.9M142.5 314.8h0.9M137.9 318.1h0.9M143.5 316.9h0.9M134.0 318.6h0.9M141.4 324.3h0.9M134.6 327.1h0.9M140.1 319.4h0.9M141.1 321.8h0.9M143.6 322.8h0.9M150.6 325.2h0.9M136.0 324.1h0.9M143.2 318.9h0.9M135.5 319.4h0.9M138.2 325.4h0.9M136.5 322.0h0.9M143.0 324.6h0.9M141.0 318.8h0.9M150.6 324.3h0.9M146.3 326.5h0.9M146.5 323.0h0.9M141.8 323.7h0.9M131.6 324.2h0.9M134.3 323.0h0.9M134.1 323.9h0.9M136.8 329.1h0.9M140.3 323.3h0.9M134.7 321.0h0.9M139.0 321.0h0.9M137.1 319.2h0.9M143.2 320.7h0.9M135.2 322.9h0.9M135.2 321.3h0.9M136.7 319.1h0.9M138.2 319.4h0.9M132.9 322.8h0.9M137.8 317.5h0.9M137.3 322.3h0.9M141.5 322.9h0.9M140.6 323.5h0.9M136.8 319.5h0.9M142.5 320.6h0.9M139.4 323.7h0.9M144.1 325.4h0.9M135.8 320.7h0.9M142.2 317.6h0.9M132.9 323.6h0.9M136.2 319.1h0.9M143.5 323.4h0.9M144.0 320.8h0.9M137.9 320.8h0.9M140.9 315.9h0.9M135.8 323.9h0.9M135.3 321.6h0.9M140.0 323.3h0.9M136.9 318.5h0.9M152.1 319.7h0.9M148.1 316.7h0.9M139.9 321.2h0.9M149.0 327.8h0.9M144.3 318.8h0.9M135.2 319.6h0.9M136.7 322.6h0.9M135.3 321.1h0.9M146.9 326.0h0.9M137.4 325.6h0.9M137.7 327.4h0.9M141.2 326.0h0.9M135.0 320.9h0.9M144.6 323.5h0.9M140.3 323.6h0.9M136.1 326.9h0.9M140.1 326.0h0.9M141.4 322.0h0.9M137.7 318.4h0.9M143.8 324.0h0.9M144.1 320.7h0.9M134.2 320.7h0.9M137.8 321.8h0.9M144.4 319.1h0.9M136.9 323.8h0.9M144.0 328.2h0.9M142.0 319.3h0.9M134.0 319.5h0.9M139.7 322.5h0.9M139.0 320.0h0.9M138.4 321.6h0.9M142.4 322.0h0.9M135.2 318.4h0.9M146.9 321.6h0.9M138.5 321.7h0.9M145.1 320.9h0.9M140.3 321.1h0.9M142.3 318.9h0.9M140.4 324.8h0.9M145.4 323.6h0.9M140.9 326.4h0.9M143.0 325.9h0.9M133.2 318.6h0.9M143.4 321.0h0.9M137.2 319.0h0.9M146.9 318.3h0.9M139.9 317.8h0.9M138.5 328.3h0.9M151.8 320.4h0.9M134.2 326.5h0.9M135.0 316.6h0.9M141.1 318.7h0.9M132.0 325.1h0.9M135.6 318.7h0.9M140.2 321.3h0.9M145.1 322.1h0.9M147.5 325.1h0.9M148.4 325.1h0.9M139.7 323.4h0.9M139.5 317.3h0.9M133.4 324.0h0.9M132.8 321.6h0.9M134.1 322.5h0.9M138.4 320.4h0.9M135.1 315.4h0.9M139.8 318.1h0.9M137.9 322.9h0.9M144.7 323.8h0.9M146.9 317.7h0.9M142.8 326.4h0.9M141.4 318.6h0.9M141.4 320.3h0.9M136.1 324.9h0.9M138.5 318.6h0.9M135.9 327.5h0.9M135.1 323.8h0.9M140.3 325.2h0.9M166.3 302.5h0.9M160.8 299.6h0.9M161.5 315.5h0.9M165.7 300.2h0.9M167.7 309.7h0.9M163.1 309.1h0.9M161.2 310.3h0.9M169.2 294.2h0.9M165.2 301.7h0.9M164.8 305.6h0.9M165.7 308.8h0.9M166.2 309.0h0.9M167.4 308.2h0.9M163.5 308.4h0.9M164.2 301.6h0.9M169.5 302.3h0.9M165.1 294.5h0.9M164.5 309.3h0.9" stroke="#000" stroke-width="0.9" fill="none" opacity="1"/>
<path d="M157.6 319.3h0.9M156.9 320.9h0.9M147.2 326.5h0.9M151.3 321.5h0.9M161.4 317.5h0.9M148.0 317.5h0.9M149.3 325.2h0.9M154.8 315.5h0.9M151.1 321.1h0.9M149.6 318.7h0.9M160.6 320.3h0.9M150.5 322.2h0.9M148.7 321.2h0.9M156.7 316.1h0.9M155.2 318.7h0.9M158.2 322.4h0.9M160.6 322.3h0.9M149.7 317.2h0.9M157.6 324.7h0.9M147.9 320.0h0.9M151.2 320.6h0.9M160.1 321.7h0.9M158.2 324.2h0.9M151.2 322.4h0.9M152.6 320.7h0.9M155.0 323.0h0.9M149.5 325.1h0.9M149.4 318.8h0.9M159.7 326.8h0.9M152.5 326.4h0.9M147.6 326.5h0.9M150.0 315.4h0.9M158.4 316.9h0.9M158.3 315.1h0.9M148.9 319.3h0.9M148.3 320.7h0.9M152.2 323.9h0.9M154.4 326.6h0.9M159.7 317.1h0.9M160.8 325.7h0.9M155.5 321.3h0.9M149.5 318.9h0.9M150.3 317.4h0.9M156.2 318.9h0.9M158.5 321.9h0.9M159.4 316.0h0.9M159.7 321.1h0.9M156.5 317.9h0.9M157.4 319.9h0.9M157.8 322.0h0.9M149.1 318.6h0.9M158.3 315.2h0.9M156.5 321.5h0.9M157.7 318.9h0.9M154.2 320.7h0.9M158.2 315.9h0.9M154.7 318.1h0.9M155.8 318.1h0.9M150.1 317.8h0.9M160.4 319.4h0.9M160.2 323.8h0.9M151.0 321.6h0.9M147.1 326.2h0.9M156.5 316.4h0.9M154.8 320.9h0.9M157.1 318.5h0.9M160.6 322.5h0.9M148.1 324.8h0.9M160.3 318.7h0.9M157.7 325.3h0.9M158.3 314.1h0.9M156.9 316.7h0.9M155.9 323.3h0.9M145.4 326.5h0.9M155.9 327.9h0.9M160.7 321.6h0.9M153.8 323.1h0.9M143.4 320.5h0.9M146.7 316.2h0.9M139.1 325.7h0.9M157.2 323.5h0.9M152.3 320.7h0.9M148.8 323.0h0.9M131.2 319.7h0.9M161.1 316.1h0.9M145.5 314.2h0.9M138.9 325.4h0.9M132.0 325.0h0.9M155.7 326.0h0.9M139.0 327.0h0.9M142.5 319.8h0.9M160.5 321.2h0.9M152.1 314.7h0.9M131.1 317.0h0.9M134.3 325.4h0.9M138.7 327.4h0.9M152.0 315.9h0.9M153.0 317.8h0.9M147.3 314.1h0.9M156.8 324.8h0.9M149.0 323.4h0.9M141.5 314.9h0.9M141.1 324.1h0.9M148.5 315.0h0.9M138.5 320.1h0.9M131.4 313.7h0.9M144.9 315.0h0.9M158.6 314.9h0.9M154.2 324.9h0.9M140.8 321.1h0.9M161.8 322.3h0.9M143.0 327.6h0.9M139.0 327.3h0.9M140.6 319.3h0.9M140.8 322.8h0.9M158.4 323.3h0.9M136.6 327.9h0.9M153.4 320.6h0.9M157.3 314.6h0.9M149.5 324.8h0.9M155.1 323.1h0.9M132.9 320.2h0.9M139.3 322.1h0.9M143.3 319.8h0.9M147.7 321.8h0.9M158.6 317.2h0.9M139.5 315.8h0.9M134.5 325.7h0.9M159.5 314.9h0.9M142.2 326.6h0.9M154.3 340.7h0.9M157.8 331.9h0.9M132.8 331.2h0.9M144.6 328.2h0.9M137.8 334.1h0.9M149.4 330.0h0.9M134.3 332.3h0.9M133.5 329.6h0.9M133.8 338.4h0.9M154.7 328.6h0.9M152.7 339.0h0.9M148.6 331.9h0.9M153.1 329.1h0.9M132.3 340.4h0.9M137.0 339.9h0.9M151.4 328.6h0.9M133.5 336.4h0.9M134.9 336.7h0.9M149.2 331.0h0.9M143.9 330.8h0.9M154.5 336.2h0.9M149.7 336.1h0.9M132.6 339.5h0.9M152.0 334.7h0.9M146.9 334.4h0.9M151.4 334.9h0.9M138.5 334.7h0.9M136.8 328.1h0.9M145.1 339.3h0.9M150.4 330.7h0.9M144.7 335.6h0.9M146.6 334.0h0.9M144.8 336.9h0.9M154.8 334.7h0.9M152.2 336.8h0.9M134.2 331.4h0.9M139.5 332.6h0.9M144.3 331.8h0.9M157.9 337.5h0.9M141.0 337.1h0.9" stroke="#222" stroke-width="0.9" fill="none" opacity="0.85"/>
<text x="130.6" y="296.8" font-size="8.8" font-weight="bold" textLength="22" lengthAdjust="spacingAndGlyphs" stroke="#000" stroke-width="0.25">14.3%</text>
<text x="162" y="323" font-size="8.8" font-weight="bold" textLength="23.4" lengthAdjust="spacingAndGlyphs" stroke="#000" stroke-width="0.25">83.4%</text>
<text x="89.6" y="240.9" font-size="10.2" font-weight="bold" textLength="67.7" lengthAdjust="spacingAndGlyphs">Annexin-FITC</text>
<path d="M78.6 247.2H160" stroke="#000" stroke-width="1.4"/><path d="M166 247.2L157.4 243.6V250.8Z" fill="#000"/>
<text x="108.7" y="371.2" font-size="10.2" font-weight="bold" textLength="21" lengthAdjust="spacingAndGlyphs">GFP</text>
<path d="M79.7 376.4H160" stroke="#000" stroke-width="1.4"/><path d="M166.4 376.4L157.8 372.8V380Z" fill="#000"/>
<path d="M331.2 40.9V176.6H515.5" stroke="#222" stroke-width="1.3" fill="none"/>
<path d="M327.7 176.6H331.2" stroke="#222" stroke-width="1.1"/>
<text x="322.2" y="179.8" font-size="9.6" text-anchor="end" fill="#111">0</text>
<path d="M327.7 131.5H331.2" stroke="#222" stroke-width="1.1"/>
<text x="322.2" y="134.7" font-size="9.6" text-anchor="end" fill="#111">25</text>
<path d="M327.7 86.5H331.2" stroke="#222" stroke-width="1.1"/>
<text x="322.2" y="89.7" font-size="9.6" text-anchor="end" fill="#111">50</text>
<path d="M327.7 41.4H331.2" stroke="#222" stroke-width="1.1"/>
<text x="322.2" y="44.6" font-size="9.6" text-anchor="end" fill="#111">75</text>
<rect x="336.0" y="85.5" width="8.300000000000011" height="91.1" fill="url(#p1)" stroke="#1a1a1a" stroke-width="1"/>
<path d="M340.15 85V74.5M337.84999999999997 74.5H342.45" stroke="#111" stroke-width="1.1" fill="none"/>
<rect x="346.9" y="92.9" width="7.5" height="83.69999999999999" fill="url(#p2)" stroke="#1a1a1a" stroke-width="1"/>
<path d="M350.65 92.4V84.2M348.34999999999997 84.2H352.95" stroke="#111" stroke-width="1.1" fill="none"/>
<rect x="358.7" y="63.5" width="8.600000000000023" height="113.1" fill="url(#p3)" stroke="#1a1a1a" stroke-width="1"/>
<path d="M363.0 63V48M360.7 48H365.3" stroke="#111" stroke-width="1.1" fill="none"/>
<rect x="369.5" y="144.3" width="9" height="32.29999999999998" fill="url(#p4)" stroke="#1a1a1a" stroke-width="1"/>
<path d="M374.0 143.8V131.8M371.7 131.8H376.3" stroke="#111" stroke-width="1.1" fill="none"/>
<rect x="388.7" y="96.7" width="7.800000000000011" height="79.89999999999999" fill="url(#p1)" stroke="#1a1a1a" stroke-width="1"/>
<path d="M392.6 96.2V88.7M390.3 88.7H394.90000000000003" stroke="#111" stroke-width="1.1" fill="none"/>
<rect x="399.1" y="137.7" width="8.0" height="38.900000000000006" fill="url(#p2)" stroke="#1a1a1a" stroke-width="1"/>
<path d="M403.1 137.2V129.5M400.8 129.5H405.40000000000003" stroke="#111" stroke-width="1.1" fill="none"/>
<rect x="411.5" y="96.7" width="8.199999999999989" height="79.89999999999999" fill="url(#p3)" stroke="#1a1a1a" stroke-width="1"/>
<path d="M415.6 96.2V75.5M413.3 75.5H417.90000000000003" stroke="#111" stroke-width="1.1" fill="none"/>
<rect x="421.5" y="166.7" width="9.399999999999977" height="9.900000000000006" fill="url(#p4)" stroke="#1a1a1a" stroke-width="1"/>
<path d="M426.2 166.2V161.2M423.9 161.2H428.5" stroke="#111" stroke-width="1.1" fill="none"/>
<rect x="439.5" y="123.0" width="9" height="53.599999999999994" fill="url(#p1)" stroke="#1a1a1a" stroke-width="1"/>
<path d="M444.0 122.5V92.5M441.7 92.5H446.3" stroke="#111" stroke-width="1.1" fill="none"/>
<rect x="450.5" y="136.7" width="8.199999999999989" height="39.900000000000006" fill="url(#p2)" stroke="#1a1a1a" stroke-width="1"/>
<path d="M454.6 136.2V113.7M452.3 113.7H456.90000000000003" stroke="#111" stroke-width="1.1" fill="none"/>
<rect x="462.5" y="111.7" width="8.600000000000023" height="64.89999999999999" fill="url(#p3)" stroke="#1a1a1a" stroke-width="1"/>
<path d="M466.8 111.2V83.7M464.5 83.7H469.1" stroke="#111" stroke-width="1.1" fill="none"/>
<rect x="472.9" y="156.7" width="8.600000000000023" height="19.900000000000006" fill="url(#p4)" stroke="#1a1a1a" stroke-width="1"/>
<path d="M477.2 156.2V145M474.9 145H479.5" stroke="#111" stroke-width="1.1" fill="none"/>
<path d="M358 35.5V32.5H378V35.5" stroke="#111" stroke-width="1" fill="none"/>
<path d="M387 71.8V68.8H406.2V71.8" stroke="#111" stroke-width="1" fill="none"/>
<path d="M410 71.8V68.8H428.8V71.8" stroke="#111" stroke-width="1" fill="none"/>
<path d="M461.2 71.8V68.8H483.8V71.8" stroke="#111" stroke-width="1" fill="none"/>
<text x="337" y="190.8" font-size="8.2" textLength="38.5" lengthAdjust="spacingAndGlyphs" fill="#111">cytarabine</text>
<text x="389.5" y="190.8" font-size="8.2" textLength="35.0" lengthAdjust="spacingAndGlyphs" fill="#111">etoposide</text>
<text x="443" y="190.8" font-size="8.2" textLength="36.3" lengthAdjust="spacingAndGlyphs" fill="#111">starvation</text>
<rect x="425.6" y="4.199999999999999" width="17.4" height="5.2" fill="url(#p1)" stroke="#1a1a1a" stroke-width="0.9"/>
<text x="446" y="9.8" font-size="8.5" textLength="22.5" lengthAdjust="spacingAndGlyphs" fill="#111">32D-v</text>
<rect x="425.6" y="17.0" width="17.4" height="5.2" fill="url(#p2)" stroke="#1a1a1a" stroke-width="0.9"/>
<text x="446" y="22.6" font-size="8.5" textLength="44" lengthAdjust="spacingAndGlyphs" fill="#111">32D-ICSBP</text>
<rect x="425.6" y="29.4" width="17.4" height="5.2" fill="url(#p3)" stroke="#1a1a1a" stroke-width="0.9"/>
<text x="446" y="35" font-size="8.5" textLength="36.5" lengthAdjust="spacingAndGlyphs" fill="#111">32D/BA-v</text>
<rect x="425.6" y="41.8" width="17.4" height="5.2" fill="url(#p4)" stroke="#1a1a1a" stroke-width="0.9"/>
<text x="446" y="47.4" font-size="8.5" textLength="73" lengthAdjust="spacingAndGlyphs" fill="#111">32D/BA-ICSBP(3E)</text>
<text x="291.5" y="12.4" font-size="17.6" font-weight="bold" textLength="12.3" lengthAdjust="spacingAndGlyphs">B</text>
<text x="304.4" y="137.7" font-size="10" font-weight="bold" textLength="64.6" lengthAdjust="spacingAndGlyphs" transform="rotate(-90 304.4 137.7)">vital cells [%]</text>
<path d="M334.6 256.7V393H516" stroke="#222" stroke-width="1.3" fill="none"/>
<path d="M331.70000000000005 393.0H334.6" stroke="#222" stroke-width="1.1"/>
<text x="326.4" y="396.2" font-size="9.6" text-anchor="end" fill="#111">0</text>
<path d="M331.70000000000005 347.7H334.6" stroke="#222" stroke-width="1.1"/>
<text x="326.4" y="350.9" font-size="9.6" text-anchor="end" fill="#111">25</text>
<path d="M331.70000000000005 302.4H334.6" stroke="#222" stroke-width="1.1"/>
<text x="326.4" y="305.6" font-size="9.6" text-anchor="end" fill="#111">50</text>
<path d="M331.70000000000005 257.2H334.6" stroke="#222" stroke-width="1.1"/>
<text x="326.4" y="260.4" font-size="9.6" text-anchor="end" fill="#111">75</text>
<rect x="339.2" y="308.5" width="7.900000000000034" height="84.5" fill="url(#p1)" stroke="#1a1a1a" stroke-width="1"/>
<path d="M343.15 308V302.5M340.84999999999997 302.5H345.45" stroke="#111" stroke-width="1.1" fill="none"/>
<rect x="349.5" y="317.2" width="8" height="75.80000000000001" fill="url(#p2)" stroke="#1a1a1a" stroke-width="1"/>
<path d="M353.5 316.7V309.5M351.2 309.5H355.8" stroke="#111" stroke-width="1.1" fill="none"/>
<rect x="362.9" y="313.0" width="7.900000000000034" height="80.0" fill="url(#p3)" stroke="#1a1a1a" stroke-width="1"/>
<path d="M366.85 312.5V311.4M364.55 311.4H369.15000000000003" stroke="#111" stroke-width="1.1" fill="none"/>
<rect x="372.9" y="346.0" width="8.0" height="47.0" fill="url(#p4)" stroke="#1a1a1a" stroke-width="1"/>
<path d="M376.9 345.5V340.5M374.59999999999997 340.5H379.2" stroke="#111" stroke-width="1.1" fill="none"/>
<rect x="392.5" y="298.5" width="8.199999999999989" height="94.5" fill="url(#p1)" stroke="#1a1a1a" stroke-width="1"/>
<path d="M396.6 298V291.2M394.3 291.2H398.90000000000003" stroke="#111" stroke-width="1.1" fill="none"/>
<rect x="402.9" y="338.0" width="8.0" height="55.0" fill="url(#p2)" stroke="#1a1a1a" stroke-width="1"/>
<path d="M406.9 337.5V324.2M404.59999999999997 324.2H409.2" stroke="#111" stroke-width="1.1" fill="none"/>
<rect x="415.5" y="291.7" width="8.199999999999989" height="101.30000000000001" fill="url(#p3)" stroke="#1a1a1a" stroke-width="1"/>
<path d="M419.6 291.2V284.5M417.3 284.5H421.90000000000003" stroke="#111" stroke-width="1.1" fill="none"/>
<rect x="425.5" y="325.0" width="8.5" height="68.0" fill="url(#p4)" stroke="#1a1a1a" stroke-width="1"/>
<path d="M429.75 324.5V312.5M427.45 312.5H432.05" stroke="#111" stroke-width="1.1" fill="none"/>
<rect x="443.5" y="335.5" width="8" height="57.5" fill="url(#p1)" stroke="#1a1a1a" stroke-width="1"/>
<path d="M447.5 335V329.5M445.2 329.5H449.8" stroke="#111" stroke-width="1.1" fill="none"/>
<rect x="453.5" y="348.0" width="8.5" height="45.0" fill="url(#p2)" stroke="#1a1a1a" stroke-width="1"/>
<rect x="466.7" y="362.5" width="7.800000000000011" height="30.5" fill="url(#p3)" stroke="#1a1a1a" stroke-width="1"/>
<path d="M470.6 362V355M468.3 355H472.90000000000003" stroke="#111" stroke-width="1.1" fill="none"/>
<rect x="476.7" y="377.5" width="8.400000000000034" height="15.5" fill="url(#p4)" stroke="#1a1a1a" stroke-width="1"/>
<path d="M480.9 377V369.5M478.59999999999997 369.5H483.2" stroke="#111" stroke-width="1.1" fill="none"/>
<path d="M362 270.5V267.5H381.8V270.5" stroke="#111" stroke-width="1" fill="none"/>
<path d="M387.5 270.5V267.5H407V270.5" stroke="#111" stroke-width="1" fill="none"/>
<path d="M413.2 270.5V267.5H431.2V270.5" stroke="#111" stroke-width="1" fill="none"/>
<path d="M466.2 317.5V314.5H486.2V317.5" stroke="#111" stroke-width="1" fill="none"/>
<text x="342.5" y="409.6" font-size="8.2" textLength="38.7" lengthAdjust="spacingAndGlyphs" fill="#111">cytarabine</text>
<text x="398.8" y="409.6" font-size="8.2" textLength="35.7" lengthAdjust="spacingAndGlyphs" fill="#111">etoposide</text>
<text x="451.2" y="409.6" font-size="8.2" textLength="36.3" lengthAdjust="spacingAndGlyphs" fill="#111">starvation</text>
<rect x="425.6" y="210.4" width="17.4" height="5.2" fill="url(#p1)" stroke="#1a1a1a" stroke-width="0.9"/>
<text x="448" y="216" font-size="8.5" textLength="56" lengthAdjust="spacingAndGlyphs" fill="#111">32D/ICSBP-off</text>
<rect x="425.6" y="222.0" width="17.4" height="5.2" fill="url(#p2)" stroke="#1a1a1a" stroke-width="0.9"/>
<text x="448" y="227.6" font-size="8.5" textLength="55" lengthAdjust="spacingAndGlyphs" fill="#111">32D/ICSBP-on</text>
<rect x="425.6" y="234.20000000000002" width="17.4" height="5.2" fill="url(#p3)" stroke="#1a1a1a" stroke-width="0.9"/>
<text x="448" y="239.8" font-size="8.5" textLength="71" lengthAdjust="spacingAndGlyphs" fill="#111">32D/BA-ICSBP-off</text>
<rect x="425.6" y="246.8" width="17.4" height="5.2" fill="url(#p4)" stroke="#1a1a1a" stroke-width="0.9"/>
<text x="448" y="252.4" font-size="8.5" textLength="71" lengthAdjust="spacingAndGlyphs" fill="#111">32D/BA-ICSBP-on</text>
<text x="291.5" y="222.4" font-size="17.6" font-weight="bold" textLength="12.3" lengthAdjust="spacingAndGlyphs">C</text>
<text x="303.9" y="355" font-size="10" font-weight="bold" textLength="64.6" lengthAdjust="spacingAndGlyphs" transform="rotate(-90 303.9 355)">vital cells [%]</text>
</svg>
</body></html>
